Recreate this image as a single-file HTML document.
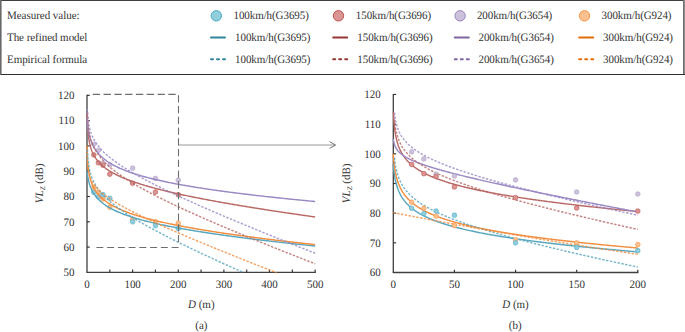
<!DOCTYPE html>
<html><head><meta charset="utf-8"><style>html,body{margin:0;padding:0;background:#fff;width:685px;height:332px;overflow:hidden}svg{display:block}</style></head>
<body><svg width="685" height="332" viewBox="0 0 685 332">
<style>.t{font-family:'Liberation Serif',serif;font-size:11.4px;fill:#333;text-rendering:geometricPrecision}</style>
<rect width="685" height="332" fill="#fff"/>
<rect x="0" y="0" width="684" height="1" fill="#404040"/>
<rect x="0" y="0" width="1.6" height="75" fill="#6a6a6a"/>
<rect x="683" y="0" width="1.8" height="75" fill="#707070"/>
<rect x="1" y="74" width="684" height="1" fill="#303030"/>
<text transform="translate(7,19.2) scale(0.9649,1)" class="t" letter-spacing="-0.03">Measured value:</text>
<text transform="translate(7,41.0) scale(0.9649,1)" class="t" letter-spacing="-0.05">The refined model</text>
<text transform="translate(7,62.7) scale(0.9649,1)" class="t" letter-spacing="-0.05">Empirical formula</text>
<circle cx="216.3" cy="15.8" r="5.2" fill="#92CDDC" stroke="#4BACC6" stroke-width="1"/>
<line x1="211" y1="37.5" x2="225" y2="37.5" stroke="#31859C" stroke-width="2" stroke-linecap="round"/>
<line x1="211" y1="59.2" x2="225" y2="59.2" stroke="#31859C" stroke-width="2" stroke-linecap="round" stroke-dasharray="2 4"/>
<text transform="translate(233.5,19.2) scale(0.9649,1)" class="t" letter-spacing="-0.08">100km/h(G3695)</text>
<text transform="translate(235.1,41.0) scale(0.9649,1)" class="t" letter-spacing="-0.08">100km/h(G3695)</text>
<text transform="translate(235.1,62.7) scale(0.9649,1)" class="t" letter-spacing="-0.08">100km/h(G3695)</text>
<circle cx="338.5" cy="15.8" r="5.2" fill="#D99694" stroke="#C0504D" stroke-width="1"/>
<line x1="333.2" y1="37.5" x2="347.2" y2="37.5" stroke="#943634" stroke-width="2" stroke-linecap="round"/>
<line x1="333.2" y1="59.2" x2="347.2" y2="59.2" stroke="#943634" stroke-width="2" stroke-linecap="round" stroke-dasharray="2 4"/>
<text transform="translate(355.8,19.2) scale(0.9649,1)" class="t" letter-spacing="-0.08">150km/h(G3696)</text>
<text transform="translate(357.3,41.0) scale(0.9649,1)" class="t" letter-spacing="-0.08">150km/h(G3696)</text>
<text transform="translate(357.3,62.7) scale(0.9649,1)" class="t" letter-spacing="-0.08">150km/h(G3696)</text>
<circle cx="460.1" cy="15.8" r="5.2" fill="#CCC1DA" stroke="#9A84C0" stroke-width="1"/>
<line x1="454.8" y1="37.5" x2="468.8" y2="37.5" stroke="#8064A2" stroke-width="2" stroke-linecap="round"/>
<line x1="454.8" y1="59.2" x2="468.8" y2="59.2" stroke="#8064A2" stroke-width="2" stroke-linecap="round" stroke-dasharray="2 4"/>
<text transform="translate(476.9,19.2) scale(0.9649,1)" class="t" letter-spacing="-0.08">200km/h(G3654)</text>
<text transform="translate(478.5,41.0) scale(0.9649,1)" class="t" letter-spacing="-0.08">200km/h(G3654)</text>
<text transform="translate(478.5,62.7) scale(0.9649,1)" class="t" letter-spacing="-0.08">200km/h(G3654)</text>
<circle cx="584.5" cy="15.8" r="5.2" fill="#FAC090" stroke="#F79646" stroke-width="1"/>
<line x1="579.2" y1="37.5" x2="593.2" y2="37.5" stroke="#E36C09" stroke-width="2" stroke-linecap="round"/>
<line x1="579.2" y1="59.2" x2="593.2" y2="59.2" stroke="#E36C09" stroke-width="2" stroke-linecap="round" stroke-dasharray="2 4"/>
<text transform="translate(601.6,19.2) scale(0.9649,1)" class="t" letter-spacing="-0.08">300km/h(G924)</text>
<text transform="translate(603.1,41.0) scale(0.9649,1)" class="t" letter-spacing="-0.08">300km/h(G924)</text>
<text transform="translate(603.1,62.7) scale(0.9649,1)" class="t" letter-spacing="-0.08">300km/h(G924)</text>
<line x1="87.0" y1="94.69999999999999" x2="87.0" y2="272.4" stroke="#404040" stroke-width="1.3"/>
<line x1="86.4" y1="272.4" x2="315.75" y2="272.4" stroke="#404040" stroke-width="1.3"/>
<line x1="87.0" y1="247.09999999999997" x2="89.8" y2="247.09999999999997" stroke="#303030" stroke-width="1.15"/>
<text transform="translate(74.6,250.90) scale(0.9649,1)" class="t" text-anchor="end">60</text>
<line x1="87.0" y1="221.79999999999998" x2="89.8" y2="221.79999999999998" stroke="#303030" stroke-width="1.15"/>
<text transform="translate(74.6,225.60) scale(0.9649,1)" class="t" text-anchor="end">70</text>
<line x1="87.0" y1="196.5" x2="89.8" y2="196.5" stroke="#303030" stroke-width="1.15"/>
<text transform="translate(74.6,200.30) scale(0.9649,1)" class="t" text-anchor="end">80</text>
<line x1="87.0" y1="171.2" x2="89.8" y2="171.2" stroke="#303030" stroke-width="1.15"/>
<text transform="translate(74.6,175.00) scale(0.9649,1)" class="t" text-anchor="end">90</text>
<line x1="87.0" y1="145.89999999999998" x2="89.8" y2="145.89999999999998" stroke="#303030" stroke-width="1.15"/>
<text transform="translate(74.6,149.70) scale(0.9649,1)" class="t" text-anchor="end">100</text>
<line x1="87.0" y1="120.6" x2="89.8" y2="120.6" stroke="#303030" stroke-width="1.15"/>
<text transform="translate(74.6,124.40) scale(0.9649,1)" class="t" text-anchor="end">110</text>
<line x1="87.0" y1="95.29999999999998" x2="89.8" y2="95.29999999999998" stroke="#303030" stroke-width="1.15"/>
<text transform="translate(74.6,99.10) scale(0.9649,1)" class="t" text-anchor="end">120</text>
<text transform="translate(74.6,276.20) scale(0.9649,1)" class="t" text-anchor="end">50</text>
<line x1="109.815" y1="272.4" x2="109.815" y2="269.59999999999997" stroke="#303030" stroke-width="1.15"/>
<line x1="132.63" y1="272.4" x2="132.63" y2="269.59999999999997" stroke="#303030" stroke-width="1.15"/>
<line x1="155.445" y1="272.4" x2="155.445" y2="269.59999999999997" stroke="#303030" stroke-width="1.15"/>
<line x1="178.26" y1="272.4" x2="178.26" y2="269.59999999999997" stroke="#303030" stroke-width="1.15"/>
<line x1="201.075" y1="272.4" x2="201.075" y2="269.59999999999997" stroke="#303030" stroke-width="1.15"/>
<line x1="223.89" y1="272.4" x2="223.89" y2="269.59999999999997" stroke="#303030" stroke-width="1.15"/>
<line x1="246.70499999999998" y1="272.4" x2="246.70499999999998" y2="269.59999999999997" stroke="#303030" stroke-width="1.15"/>
<line x1="269.52" y1="272.4" x2="269.52" y2="269.59999999999997" stroke="#303030" stroke-width="1.15"/>
<line x1="292.335" y1="272.4" x2="292.335" y2="269.59999999999997" stroke="#303030" stroke-width="1.15"/>
<line x1="315.15" y1="272.4" x2="315.15" y2="269.59999999999997" stroke="#303030" stroke-width="1.15"/>
<text transform="translate(87.00,287.5) scale(0.9649,1)" class="t" text-anchor="middle">0</text>
<text transform="translate(132.63,287.5) scale(0.9649,1)" class="t" text-anchor="middle">100</text>
<text transform="translate(178.26,287.5) scale(0.9649,1)" class="t" text-anchor="middle">200</text>
<text transform="translate(223.89,287.5) scale(0.9649,1)" class="t" text-anchor="middle">300</text>
<text transform="translate(269.52,287.5) scale(0.9649,1)" class="t" text-anchor="middle">400</text>
<text transform="translate(315.15,287.5) scale(0.9649,1)" class="t" text-anchor="middle">500</text>
<line x1="393.3" y1="93.88" x2="393.3" y2="272.5" stroke="#404040" stroke-width="1.3"/>
<line x1="392.7" y1="272.5" x2="638.4" y2="272.5" stroke="#404040" stroke-width="1.3"/>
<line x1="393.3" y1="242.82999999999998" x2="396.1" y2="242.82999999999998" stroke="#303030" stroke-width="1.15"/>
<text transform="translate(380.8,246.63) scale(0.9649,1)" class="t" text-anchor="end">70</text>
<line x1="393.3" y1="213.16" x2="396.1" y2="213.16" stroke="#303030" stroke-width="1.15"/>
<text transform="translate(380.8,216.96) scale(0.9649,1)" class="t" text-anchor="end">80</text>
<line x1="393.3" y1="183.49" x2="396.1" y2="183.49" stroke="#303030" stroke-width="1.15"/>
<text transform="translate(380.8,187.29) scale(0.9649,1)" class="t" text-anchor="end">90</text>
<line x1="393.3" y1="153.82" x2="396.1" y2="153.82" stroke="#303030" stroke-width="1.15"/>
<text transform="translate(380.8,157.62) scale(0.9649,1)" class="t" text-anchor="end">100</text>
<line x1="393.3" y1="124.15" x2="396.1" y2="124.15" stroke="#303030" stroke-width="1.15"/>
<text transform="translate(380.8,127.95) scale(0.9649,1)" class="t" text-anchor="end">110</text>
<line x1="393.3" y1="94.47999999999999" x2="396.1" y2="94.47999999999999" stroke="#303030" stroke-width="1.15"/>
<text transform="translate(380.8,98.28) scale(0.9649,1)" class="t" text-anchor="end">120</text>
<text transform="translate(380.8,276.30) scale(0.9649,1)" class="t" text-anchor="end">60</text>
<line x1="454.425" y1="272.5" x2="454.425" y2="269.7" stroke="#303030" stroke-width="1.15"/>
<line x1="515.55" y1="272.5" x2="515.55" y2="269.7" stroke="#303030" stroke-width="1.15"/>
<line x1="576.675" y1="272.5" x2="576.675" y2="269.7" stroke="#303030" stroke-width="1.15"/>
<line x1="637.8" y1="272.5" x2="637.8" y2="269.7" stroke="#303030" stroke-width="1.15"/>
<text transform="translate(393.30,287.5) scale(0.9649,1)" class="t" text-anchor="middle">0</text>
<text transform="translate(454.43,287.5) scale(0.9649,1)" class="t" text-anchor="middle">50</text>
<text transform="translate(515.55,287.5) scale(0.9649,1)" class="t" text-anchor="middle">100</text>
<text transform="translate(576.67,287.5) scale(0.9649,1)" class="t" text-anchor="middle">150</text>
<text transform="translate(637.80,287.5) scale(0.9649,1)" class="t" text-anchor="middle">200</text>
<line x1="178.26" y1="145.0" x2="334.5" y2="145.0" stroke="#9a9a9a" stroke-width="1.1"/>
<path d="M329.5,141.6 L335.6,145 L329.5,148.4" fill="none" stroke="#686868" stroke-width="0.95"/>
<circle cx="93.84" cy="144.26" r="2.35" fill="#CCC1DA" stroke="#B3A2C7" stroke-width="0.6"/>
<circle cx="98.41" cy="150.23" r="2.35" fill="#CCC1DA" stroke="#B3A2C7" stroke-width="0.6"/>
<circle cx="102.97" cy="163.28" r="2.35" fill="#CCC1DA" stroke="#B3A2C7" stroke-width="0.6"/>
<circle cx="109.81" cy="164.81" r="2.35" fill="#CCC1DA" stroke="#B3A2C7" stroke-width="0.6"/>
<circle cx="132.63" cy="168.14" r="2.35" fill="#CCC1DA" stroke="#B3A2C7" stroke-width="0.6"/>
<circle cx="155.44" cy="178.46" r="2.35" fill="#CCC1DA" stroke="#B3A2C7" stroke-width="0.6"/>
<circle cx="178.26" cy="180.16" r="2.35" fill="#CCC1DA" stroke="#B3A2C7" stroke-width="0.6"/>
<circle cx="93.84" cy="187.24" r="2.35" fill="#FAC090" stroke="#F79646" stroke-width="0.6"/>
<circle cx="98.41" cy="192.27" r="2.35" fill="#FAC090" stroke="#F79646" stroke-width="0.6"/>
<circle cx="102.97" cy="199.01" r="2.35" fill="#FAC090" stroke="#F79646" stroke-width="0.6"/>
<circle cx="109.81" cy="207.19" r="2.35" fill="#FAC090" stroke="#F79646" stroke-width="0.6"/>
<circle cx="132.63" cy="219.22" r="2.35" fill="#FAC090" stroke="#F79646" stroke-width="0.6"/>
<circle cx="155.44" cy="221.86" r="2.35" fill="#FAC090" stroke="#F79646" stroke-width="0.6"/>
<circle cx="178.26" cy="223.22" r="2.35" fill="#FAC090" stroke="#F79646" stroke-width="0.6"/>
<circle cx="93.84" cy="154.92" r="2.35" fill="#D99694" stroke="#C0504D" stroke-width="0.6"/>
<circle cx="98.41" cy="162.85" r="2.35" fill="#D99694" stroke="#C0504D" stroke-width="0.6"/>
<circle cx="102.97" cy="165.24" r="2.35" fill="#D99694" stroke="#C0504D" stroke-width="0.6"/>
<circle cx="109.81" cy="174.19" r="2.35" fill="#D99694" stroke="#C0504D" stroke-width="0.6"/>
<circle cx="132.63" cy="183.23" r="2.35" fill="#D99694" stroke="#C0504D" stroke-width="0.6"/>
<circle cx="155.44" cy="192.10" r="2.35" fill="#D99694" stroke="#C0504D" stroke-width="0.6"/>
<circle cx="178.26" cy="194.74" r="2.35" fill="#D99694" stroke="#C0504D" stroke-width="0.6"/>
<circle cx="93.84" cy="192.36" r="2.35" fill="#92CDDC" stroke="#4BACC6" stroke-width="0.6"/>
<circle cx="98.41" cy="196.79" r="2.35" fill="#92CDDC" stroke="#4BACC6" stroke-width="0.6"/>
<circle cx="102.97" cy="194.66" r="2.35" fill="#92CDDC" stroke="#4BACC6" stroke-width="0.6"/>
<circle cx="109.81" cy="198.24" r="2.35" fill="#92CDDC" stroke="#4BACC6" stroke-width="0.6"/>
<circle cx="132.63" cy="221.77" r="2.35" fill="#92CDDC" stroke="#4BACC6" stroke-width="0.6"/>
<circle cx="155.44" cy="225.70" r="2.35" fill="#92CDDC" stroke="#4BACC6" stroke-width="0.6"/>
<circle cx="178.26" cy="228.51" r="2.35" fill="#92CDDC" stroke="#4BACC6" stroke-width="0.6"/>
<path d="M87.00,171.09 L87.02,171.23 L87.03,171.37 L87.05,171.50 L87.06,171.63 L87.08,171.76 L87.09,171.89 L87.11,172.02 L87.12,172.15 L87.14,172.27 L87.15,172.40 L87.17,172.52 L87.18,172.64 L87.20,172.76 L87.21,172.88 L87.23,173.00 L87.24,173.12 L87.26,173.24 L87.28,173.35 L87.29,173.47 L87.31,173.58 L87.32,173.69 L87.34,173.80 L87.35,173.91 L87.37,174.02 L87.38,174.13 L87.40,174.24 L87.41,174.35 L87.43,174.45 L87.44,174.56 L87.46,174.66 L87.47,174.76 L87.49,174.87 L87.51,174.97 L87.52,175.07 L87.54,175.17 L87.55,175.27 L87.57,175.37 L87.58,175.46 L87.60,175.56 L87.61,175.66 L87.63,175.75 L87.64,175.85 L87.66,175.94 L87.67,176.04 L87.69,176.13 L87.70,176.22 L87.72,176.31 L87.73,176.40 L87.75,176.49 L87.77,176.58 L87.78,176.67 L87.80,176.76 L87.81,176.85 L87.83,176.93 L87.84,177.02 L87.86,177.11 L87.87,177.19 L87.89,177.28 L87.90,177.36 L87.92,177.44 L87.93,177.53 L87.95,177.61 L87.96,177.69 L87.98,177.77 L88.00,177.85 L88.01,177.93 L88.03,178.01 L88.04,178.09 L88.06,178.17 L88.07,178.25 L88.09,178.33 L88.10,178.41 L88.12,178.48 L88.13,178.56 L88.15,178.64 L88.16,178.71 L88.18,178.79 L88.19,178.86 L88.21,178.94 L88.22,179.01 L88.24,179.08 L88.26,179.16 L88.27,179.23 L88.29,179.30 L88.30,179.37 L88.32,179.44 L88.33,179.52 L88.35,179.59 L88.36,179.66 L88.38,179.73 L88.39,179.80 L88.41,179.86 L88.42,179.93 L88.44,180.00 L88.45,180.07 L88.47,180.14 L88.49,180.20 L88.50,180.27 L88.52,180.34 L88.53,180.40 L88.55,180.47 L88.56,180.54 L88.58,180.60 L88.59,180.67 L88.61,180.73 L88.62,180.79 L88.64,180.86 L88.65,180.92 L88.67,180.99 L88.68,181.05 L88.70,181.11 L88.71,181.17 L88.73,181.24 L88.75,181.30 L88.76,181.36 L88.78,181.42 L88.79,181.48 L88.81,181.54 L88.82,181.60 L88.84,181.66 L88.85,181.72 L88.87,181.78 L88.88,181.84 L88.90,181.90 L88.91,181.96 L88.93,182.02 L88.94,182.08 L88.96,182.13 L88.98,182.19 L88.99,182.25 L89.01,182.31 L89.02,182.36 L89.04,182.42 L89.05,182.48 L89.07,182.53 L89.08,182.59 L89.10,182.64 L89.11,182.70 L89.13,182.75 L89.14,182.81 L89.16,182.86 L89.17,182.92 L89.19,182.97 L89.20,183.03 L89.22,183.08 L89.24,183.13 L89.25,183.19 L89.27,183.24 L89.28,183.29 L89.37,183.59 L89.45,183.88 L89.54,184.16 L89.63,184.43 L89.71,184.71 L89.80,184.97 L89.89,185.23 L89.97,185.48 L90.06,185.73 L90.15,185.98 L90.23,186.22 L90.32,186.46 L90.41,186.69 L90.49,186.92 L90.58,187.14 L90.67,187.36 L90.75,187.58 L90.84,187.79 L90.93,188.00 L91.01,188.20 L91.10,188.41 L91.19,188.61 L91.27,188.80 L91.36,189.00 L91.45,189.19 L91.53,189.38 L91.62,189.56 L91.71,189.75 L91.79,189.93 L91.88,190.10 L91.97,190.28 L92.05,190.45 L92.14,190.62 L92.23,190.79 L92.31,190.96 L92.40,191.13 L92.49,191.29 L92.57,191.45 L92.66,191.61 L92.75,191.76 L92.83,191.92 L92.92,192.07 L93.01,192.22 L93.09,192.37 L93.18,192.52 L93.27,192.67 L93.35,192.81 L93.44,192.96 L93.53,193.10 L93.61,193.24 L93.70,193.38 L93.79,193.52 L93.87,193.65 L93.96,193.79 L94.05,193.92 L94.13,194.05 L94.22,194.18 L94.31,194.31 L94.39,194.44 L94.48,194.57 L94.57,194.69 L94.65,194.82 L94.74,194.94 L94.83,195.06 L94.91,195.18 L95.00,195.30 L95.09,195.42 L95.17,195.54 L95.26,195.66 L95.35,195.77 L95.43,195.89 L95.52,196.00 L95.61,196.12 L95.69,196.23 L95.78,196.34 L95.87,196.45 L95.95,196.56 L96.04,196.67 L96.13,196.78 L97.23,198.08 L98.33,199.26 L99.43,200.35 L100.53,201.37 L101.63,202.31 L102.73,203.20 L103.83,204.03 L104.93,204.82 L106.03,205.56 L107.13,206.28 L108.23,206.95 L109.33,207.60 L110.43,208.22 L111.53,208.82 L112.64,209.39 L113.74,209.95 L114.84,210.48 L115.94,211.00 L117.04,211.50 L118.14,211.98 L119.24,212.45 L120.34,212.91 L121.44,213.35 L122.54,213.79 L123.64,214.21 L124.74,214.62 L125.84,215.02 L126.94,215.41 L128.04,215.79 L129.14,216.17 L130.25,216.53 L131.35,216.89 L132.45,217.24 L133.55,217.59 L134.65,217.93 L135.75,218.26 L136.85,218.58 L137.95,218.90 L139.05,219.22 L140.15,219.53 L141.25,219.83 L142.35,220.13 L143.45,220.42 L144.55,220.71 L145.65,221.00 L146.75,221.28 L147.86,221.56 L148.96,221.83 L150.06,222.10 L151.16,222.36 L152.26,222.63 L153.36,222.88 L154.46,223.14 L155.56,223.39 L156.66,223.64 L157.76,223.89 L158.86,224.13 L159.96,224.37 L161.06,224.61 L162.16,224.84 L163.26,225.07 L164.36,225.30 L165.47,225.53 L166.57,225.76 L167.67,225.98 L168.77,226.20 L169.87,226.42 L170.97,226.63 L172.07,226.85 L173.17,227.06 L174.27,227.27 L175.37,227.48 L176.47,227.68 L177.57,227.89 L178.67,228.09 L179.77,228.29 L180.87,228.49 L181.97,228.69 L183.08,228.88 L184.18,229.08 L185.28,229.27 L186.38,229.46 L187.48,229.65 L188.58,229.84 L189.68,230.03 L190.78,230.21 L191.88,230.40 L192.98,230.58 L194.08,230.76 L195.18,230.94 L196.28,231.12 L197.38,231.30 L198.48,231.47 L199.58,231.65 L200.69,231.82 L201.79,231.99 L202.89,232.17 L203.99,232.34 L205.09,232.51 L206.19,232.67 L207.29,232.84 L208.39,233.01 L209.49,233.17 L210.59,233.34 L211.69,233.50 L212.79,233.66 L213.89,233.82 L214.99,233.98 L216.09,234.14 L217.19,234.30 L218.30,234.46 L219.40,234.62 L220.50,234.77 L221.60,234.93 L222.70,235.08 L223.80,235.24 L224.90,235.39 L226.00,235.54 L227.10,235.69 L228.20,235.84 L229.30,235.99 L230.40,236.14 L231.50,236.29 L232.60,236.44 L233.70,236.59 L234.80,236.73 L235.91,236.88 L237.01,237.02 L238.11,237.17 L239.21,237.31 L240.31,237.45 L241.41,237.60 L242.51,237.74 L243.61,237.88 L244.71,238.02 L245.81,238.16 L246.91,238.30 L248.01,238.44 L249.11,238.58 L250.21,238.71 L251.31,238.85 L252.41,238.99 L253.52,239.12 L254.62,239.26 L255.72,239.39 L256.82,239.53 L257.92,239.66 L259.02,239.79 L260.12,239.93 L261.22,240.06 L262.32,240.19 L263.42,240.32 L264.52,240.45 L265.62,240.58 L266.72,240.71 L267.82,240.84 L268.92,240.97 L270.02,241.10 L271.13,241.23 L272.23,241.36 L273.33,241.48 L274.43,241.61 L275.53,241.74 L276.63,241.86 L277.73,241.99 L278.83,242.11 L279.93,242.24 L281.03,242.36 L282.13,242.49 L283.23,242.61 L284.33,242.73 L285.43,242.85 L286.53,242.98 L287.63,243.10 L288.74,243.22 L289.84,243.34 L290.94,243.46 L292.04,243.58 L293.14,243.70 L294.24,243.82 L295.34,243.94 L296.44,244.06 L297.54,244.18 L298.64,244.30 L299.74,244.42 L300.84,244.53 L301.94,244.65 L303.04,244.77 L304.14,244.89 L305.24,245.00 L306.35,245.12 L307.45,245.23 L308.55,245.35 L309.65,245.46 L310.75,245.58 L311.85,245.69 L312.95,245.81 L314.05,245.92 L315.15,246.04" fill="none" stroke="#58A7BF" stroke-width="1.45" stroke-linecap="butt" stroke-linejoin="round"/>
<path d="M87.18,112.50 L87.20,113.28 L87.21,114.01 L87.23,114.70 L87.24,115.35 L87.26,115.97 L87.27,116.56 L87.28,117.12 L87.30,117.65 L87.31,118.17 L87.33,118.66 L87.34,119.13 L87.35,119.59 L87.37,120.03 L87.38,120.45 L87.40,120.86 L87.41,121.26 L87.42,121.64 L87.44,122.02 L87.45,122.38 L87.47,122.73 L87.48,123.07 L87.49,123.40 L87.51,123.72 L87.52,124.04 L87.54,124.35 L87.55,124.65 L87.56,124.94 L87.58,125.22 L87.59,125.50 L87.61,125.77 L87.62,126.04 L87.64,126.30 L87.65,126.56 L87.66,126.81 L87.68,127.05 L87.69,127.29 L87.71,127.53 L87.72,127.76 L87.73,127.99 L87.75,128.21 L87.76,128.43 L87.78,128.64 L87.79,128.86 L87.80,129.06 L87.82,129.27 L87.83,129.47 L87.85,129.67 L87.86,129.86 L87.87,130.05 L87.89,130.24 L87.90,130.43 L87.92,130.61 L87.93,130.79 L87.94,130.97 L87.96,131.14 L87.97,131.32 L87.99,131.49 L88.00,131.65 L88.02,131.82 L88.03,131.98 L88.04,132.14 L88.06,132.30 L88.07,132.46 L88.09,132.62 L88.10,132.77 L88.11,132.92 L88.13,133.07 L88.14,133.22 L88.16,133.36 L88.17,133.51 L88.18,133.65 L88.20,133.79 L88.21,133.93 L88.23,134.07 L88.24,134.21 L88.25,134.34 L88.27,134.47 L88.28,134.61 L88.30,134.74 L88.31,134.87 L88.32,134.99 L88.34,135.12 L88.35,135.25 L88.37,135.37 L88.38,135.49 L88.39,135.61 L88.41,135.73 L88.42,135.85 L88.44,135.97 L88.45,136.09 L88.47,136.20 L88.48,136.32 L88.49,136.43 L88.51,136.55 L88.52,136.66 L88.54,136.77 L88.55,136.88 L88.56,136.99 L88.58,137.09 L88.59,137.20 L88.61,137.31 L88.62,137.41 L88.63,137.52 L88.65,137.62 L88.66,137.72 L88.68,137.82 L88.69,137.92 L88.70,138.02 L88.72,138.12 L88.73,138.22 L88.75,138.32 L88.76,138.42 L88.77,138.51 L88.79,138.61 L88.80,138.70 L88.82,138.80 L88.83,138.89 L88.85,138.98 L88.86,139.07 L88.87,139.17 L88.89,139.26 L88.90,139.35 L88.92,139.43 L88.93,139.52 L88.94,139.61 L88.96,139.70 L88.97,139.79 L88.99,139.87 L89.00,139.96 L89.01,140.04 L89.03,140.13 L89.04,140.21 L89.06,140.29 L89.07,140.38 L89.08,140.46 L89.10,140.54 L89.11,140.62 L89.13,140.70 L89.14,140.78 L89.15,140.86 L89.17,140.94 L89.18,141.02 L89.20,141.10 L89.21,141.17 L89.23,141.25 L89.24,141.33 L89.25,141.40 L89.27,141.48 L89.28,141.56 L89.37,142.01 L89.45,142.45 L89.54,142.87 L89.63,143.28 L89.71,143.67 L89.80,144.06 L89.89,144.43 L89.97,144.79 L90.06,145.15 L90.15,145.49 L90.23,145.82 L90.32,146.15 L90.41,146.46 L90.49,146.77 L90.58,147.07 L90.67,147.37 L90.75,147.66 L90.84,147.94 L90.93,148.22 L91.01,148.49 L91.10,148.75 L91.19,149.01 L91.27,149.26 L91.36,149.51 L91.45,149.76 L91.53,150.00 L91.62,150.23 L91.71,150.46 L91.79,150.69 L91.88,150.91 L91.97,151.13 L92.05,151.35 L92.14,151.56 L92.23,151.77 L92.31,151.97 L92.40,152.18 L92.49,152.38 L92.57,152.57 L92.66,152.77 L92.75,152.96 L92.83,153.15 L92.92,153.33 L93.01,153.51 L93.09,153.69 L93.18,153.87 L93.27,154.05 L93.35,154.22 L93.44,154.39 L93.53,154.56 L93.61,154.73 L93.70,154.89 L93.79,155.05 L93.87,155.21 L93.96,155.37 L94.05,155.53 L94.13,155.68 L94.22,155.84 L94.31,155.99 L94.39,156.14 L94.48,156.29 L94.57,156.43 L94.65,156.58 L94.74,156.72 L94.83,156.86 L94.91,157.00 L95.00,157.14 L95.09,157.28 L95.17,157.42 L95.26,157.55 L95.35,157.69 L95.43,157.82 L95.52,157.95 L95.61,158.08 L95.69,158.21 L95.78,158.33 L95.87,158.46 L95.95,158.58 L96.04,158.71 L96.13,158.83 L97.23,160.30 L98.33,161.63 L99.43,162.85 L100.53,163.97 L101.63,165.01 L102.73,165.99 L103.83,166.90 L104.93,167.76 L106.03,168.58 L107.13,169.36 L108.23,170.10 L109.33,170.81 L110.43,171.48 L111.53,172.14 L112.64,172.76 L113.74,173.37 L114.84,173.95 L115.94,174.52 L117.04,175.07 L118.14,175.60 L119.24,176.12 L120.34,176.62 L121.44,177.11 L122.54,177.58 L123.64,178.05 L124.74,178.50 L125.84,178.95 L126.94,179.38 L128.04,179.81 L129.14,180.23 L130.25,180.63 L131.35,181.04 L132.45,181.43 L133.55,181.81 L134.65,182.19 L135.75,182.57 L136.85,182.93 L137.95,183.29 L139.05,183.65 L140.15,184.00 L141.25,184.34 L142.35,184.68 L143.45,185.02 L144.55,185.35 L145.65,185.67 L146.75,186.00 L147.86,186.31 L148.96,186.63 L150.06,186.94 L151.16,187.24 L152.26,187.55 L153.36,187.84 L154.46,188.14 L155.56,188.43 L156.66,188.72 L157.76,189.01 L158.86,189.29 L159.96,189.57 L161.06,189.85 L162.16,190.12 L163.26,190.40 L164.36,190.67 L165.47,190.93 L166.57,191.20 L167.67,191.46 L168.77,191.72 L169.87,191.98 L170.97,192.24 L172.07,192.49 L173.17,192.74 L174.27,192.99 L175.37,193.24 L176.47,193.49 L177.57,193.73 L178.67,193.98 L179.77,194.22 L180.87,194.46 L181.97,194.69 L183.08,194.93 L184.18,195.17 L185.28,195.40 L186.38,195.63 L187.48,195.86 L188.58,196.09 L189.68,196.31 L190.78,196.54 L191.88,196.76 L192.98,196.99 L194.08,197.21 L195.18,197.43 L196.28,197.65 L197.38,197.87 L198.48,198.08 L199.58,198.30 L200.69,198.51 L201.79,198.73 L202.89,198.94 L203.99,199.15 L205.09,199.36 L206.19,199.57 L207.29,199.78 L208.39,199.98 L209.49,200.19 L210.59,200.39 L211.69,200.60 L212.79,200.80 L213.89,201.00 L214.99,201.20 L216.09,201.40 L217.19,201.60 L218.30,201.80 L219.40,202.00 L220.50,202.20 L221.60,202.39 L222.70,202.59 L223.80,202.78 L224.90,202.97 L226.00,203.17 L227.10,203.36 L228.20,203.55 L229.30,203.74 L230.40,203.93 L231.50,204.12 L232.60,204.31 L233.70,204.50 L234.80,204.68 L235.91,204.87 L237.01,205.06 L238.11,205.24 L239.21,205.43 L240.31,205.61 L241.41,205.79 L242.51,205.97 L243.61,206.16 L244.71,206.34 L245.81,206.52 L246.91,206.70 L248.01,206.88 L249.11,207.06 L250.21,207.24 L251.31,207.41 L252.41,207.59 L253.52,207.77 L254.62,207.94 L255.72,208.12 L256.82,208.30 L257.92,208.47 L259.02,208.64 L260.12,208.82 L261.22,208.99 L262.32,209.16 L263.42,209.34 L264.52,209.51 L265.62,209.68 L266.72,209.85 L267.82,210.02 L268.92,210.19 L270.02,210.36 L271.13,210.53 L272.23,210.70 L273.33,210.87 L274.43,211.03 L275.53,211.20 L276.63,211.37 L277.73,211.54 L278.83,211.70 L279.93,211.87 L281.03,212.03 L282.13,212.20 L283.23,212.36 L284.33,212.53 L285.43,212.69 L286.53,212.85 L287.63,213.02 L288.74,213.18 L289.84,213.34 L290.94,213.51 L292.04,213.67 L293.14,213.83 L294.24,213.99 L295.34,214.15 L296.44,214.31 L297.54,214.47 L298.64,214.63 L299.74,214.79 L300.84,214.95 L301.94,215.11 L303.04,215.27 L304.14,215.42 L305.24,215.58 L306.35,215.74 L307.45,215.90 L308.55,216.05 L309.65,216.21 L310.75,216.37 L311.85,216.52 L312.95,216.68 L314.05,216.83 L315.15,216.99" fill="none" stroke="#BA6A66" stroke-width="1.45" stroke-linecap="butt" stroke-linejoin="round"/>
<path d="M87.00,119.06 L87.02,119.25 L87.03,119.44 L87.05,119.63 L87.06,119.82 L87.08,120.00 L87.09,120.18 L87.11,120.36 L87.12,120.54 L87.14,120.71 L87.15,120.88 L87.17,121.05 L87.18,121.22 L87.20,121.39 L87.21,121.55 L87.23,121.71 L87.24,121.87 L87.26,122.03 L87.28,122.19 L87.29,122.34 L87.31,122.50 L87.32,122.65 L87.34,122.80 L87.35,122.95 L87.37,123.09 L87.38,123.24 L87.40,123.38 L87.41,123.52 L87.43,123.67 L87.44,123.80 L87.46,123.94 L87.47,124.08 L87.49,124.22 L87.51,124.35 L87.52,124.48 L87.54,124.62 L87.55,124.75 L87.57,124.88 L87.58,125.00 L87.60,125.13 L87.61,125.26 L87.63,125.38 L87.64,125.51 L87.66,125.63 L87.67,125.75 L87.69,125.87 L87.70,125.99 L87.72,126.11 L87.73,126.23 L87.75,126.34 L87.77,126.46 L87.78,126.57 L87.80,126.69 L87.81,126.80 L87.83,126.91 L87.84,127.02 L87.86,127.14 L87.87,127.24 L87.89,127.35 L87.90,127.46 L87.92,127.57 L87.93,127.67 L87.95,127.78 L87.96,127.88 L87.98,127.99 L88.00,128.09 L88.01,128.19 L88.03,128.30 L88.04,128.40 L88.06,128.50 L88.07,128.60 L88.09,128.70 L88.10,128.79 L88.12,128.89 L88.13,128.99 L88.15,129.08 L88.16,129.18 L88.18,129.27 L88.19,129.37 L88.21,129.46 L88.22,129.56 L88.24,129.65 L88.26,129.74 L88.27,129.83 L88.29,129.92 L88.30,130.01 L88.32,130.10 L88.33,130.19 L88.35,130.28 L88.36,130.37 L88.38,130.45 L88.39,130.54 L88.41,130.63 L88.42,130.71 L88.44,130.80 L88.45,130.88 L88.47,130.97 L88.49,131.05 L88.50,131.13 L88.52,131.22 L88.53,131.30 L88.55,131.38 L88.56,131.46 L88.58,131.54 L88.59,131.62 L88.61,131.70 L88.62,131.78 L88.64,131.86 L88.65,131.94 L88.67,132.02 L88.68,132.10 L88.70,132.17 L88.71,132.25 L88.73,132.33 L88.75,132.40 L88.76,132.48 L88.78,132.55 L88.79,132.63 L88.81,132.70 L88.82,132.78 L88.84,132.85 L88.85,132.92 L88.87,133.00 L88.88,133.07 L88.90,133.14 L88.91,133.21 L88.93,133.29 L88.94,133.36 L88.96,133.43 L88.98,133.50 L88.99,133.57 L89.01,133.64 L89.02,133.71 L89.04,133.78 L89.05,133.85 L89.07,133.91 L89.08,133.98 L89.10,134.05 L89.11,134.12 L89.13,134.19 L89.14,134.25 L89.16,134.32 L89.17,134.38 L89.19,134.45 L89.20,134.52 L89.22,134.58 L89.24,134.65 L89.25,134.71 L89.27,134.78 L89.28,134.84 L89.37,135.20 L89.45,135.55 L89.54,135.89 L89.63,136.22 L89.71,136.55 L89.80,136.86 L89.89,137.17 L89.97,137.48 L90.06,137.78 L90.15,138.07 L90.23,138.36 L90.32,138.64 L90.41,138.91 L90.49,139.18 L90.58,139.45 L90.67,139.71 L90.75,139.96 L90.84,140.21 L90.93,140.46 L91.01,140.70 L91.10,140.94 L91.19,141.18 L91.27,141.41 L91.36,141.63 L91.45,141.86 L91.53,142.08 L91.62,142.30 L91.71,142.51 L91.79,142.72 L91.88,142.93 L91.97,143.13 L92.05,143.34 L92.14,143.54 L92.23,143.73 L92.31,143.93 L92.40,144.12 L92.49,144.31 L92.57,144.49 L92.66,144.68 L92.75,144.86 L92.83,145.04 L92.92,145.21 L93.01,145.39 L93.09,145.56 L93.18,145.73 L93.27,145.90 L93.35,146.07 L93.44,146.24 L93.53,146.40 L93.61,146.56 L93.70,146.72 L93.79,146.88 L93.87,147.03 L93.96,147.19 L94.05,147.34 L94.13,147.49 L94.22,147.64 L94.31,147.79 L94.39,147.94 L94.48,148.08 L94.57,148.23 L94.65,148.37 L94.74,148.51 L94.83,148.65 L94.91,148.79 L95.00,148.93 L95.09,149.06 L95.17,149.20 L95.26,149.33 L95.35,149.47 L95.43,149.60 L95.52,149.73 L95.61,149.86 L95.69,149.98 L95.78,150.11 L95.87,150.24 L95.95,150.36 L96.04,150.48 L96.13,150.61 L97.23,152.08 L98.33,153.42 L99.43,154.65 L100.53,155.78 L101.63,156.84 L102.73,157.83 L103.83,158.75 L104.93,159.63 L106.03,160.45 L107.13,161.24 L108.23,161.99 L109.33,162.70 L110.43,163.38 L111.53,164.03 L112.64,164.66 L113.74,165.27 L114.84,165.85 L115.94,166.41 L117.04,166.95 L118.14,167.47 L119.24,167.98 L120.34,168.48 L121.44,168.95 L122.54,169.42 L123.64,169.87 L124.74,170.31 L125.84,170.74 L126.94,171.16 L128.04,171.57 L129.14,171.97 L130.25,172.36 L131.35,172.74 L132.45,173.11 L133.55,173.48 L134.65,173.83 L135.75,174.18 L136.85,174.53 L137.95,174.86 L139.05,175.19 L140.15,175.52 L141.25,175.84 L142.35,176.15 L143.45,176.46 L144.55,176.76 L145.65,177.06 L146.75,177.35 L147.86,177.64 L148.96,177.92 L150.06,178.20 L151.16,178.48 L152.26,178.75 L153.36,179.02 L154.46,179.28 L155.56,179.54 L156.66,179.80 L157.76,180.05 L158.86,180.30 L159.96,180.55 L161.06,180.79 L162.16,181.03 L163.26,181.27 L164.36,181.50 L165.47,181.74 L166.57,181.96 L167.67,182.19 L168.77,182.42 L169.87,182.64 L170.97,182.86 L172.07,183.07 L173.17,183.29 L174.27,183.50 L175.37,183.71 L176.47,183.92 L177.57,184.12 L178.67,184.33 L179.77,184.53 L180.87,184.73 L181.97,184.93 L183.08,185.13 L184.18,185.32 L185.28,185.51 L186.38,185.70 L187.48,185.89 L188.58,186.08 L189.68,186.27 L190.78,186.45 L191.88,186.63 L192.98,186.82 L194.08,187.00 L195.18,187.17 L196.28,187.35 L197.38,187.53 L198.48,187.70 L199.58,187.87 L200.69,188.05 L201.79,188.22 L202.89,188.38 L203.99,188.55 L205.09,188.72 L206.19,188.88 L207.29,189.05 L208.39,189.21 L209.49,189.37 L210.59,189.53 L211.69,189.69 L212.79,189.85 L213.89,190.01 L214.99,190.17 L216.09,190.32 L217.19,190.48 L218.30,190.63 L219.40,190.78 L220.50,190.93 L221.60,191.08 L222.70,191.23 L223.80,191.38 L224.90,191.53 L226.00,191.68 L227.10,191.82 L228.20,191.97 L229.30,192.11 L230.40,192.26 L231.50,192.40 L232.60,192.54 L233.70,192.68 L234.80,192.82 L235.91,192.96 L237.01,193.10 L238.11,193.24 L239.21,193.38 L240.31,193.51 L241.41,193.65 L242.51,193.79 L243.61,193.92 L244.71,194.05 L245.81,194.19 L246.91,194.32 L248.01,194.45 L249.11,194.58 L250.21,194.71 L251.31,194.84 L252.41,194.97 L253.52,195.10 L254.62,195.23 L255.72,195.36 L256.82,195.48 L257.92,195.61 L259.02,195.74 L260.12,195.86 L261.22,195.99 L262.32,196.11 L263.42,196.23 L264.52,196.36 L265.62,196.48 L266.72,196.60 L267.82,196.72 L268.92,196.84 L270.02,196.96 L271.13,197.08 L272.23,197.20 L273.33,197.32 L274.43,197.44 L275.53,197.56 L276.63,197.68 L277.73,197.79 L278.83,197.91 L279.93,198.03 L281.03,198.14 L282.13,198.26 L283.23,198.37 L284.33,198.49 L285.43,198.60 L286.53,198.71 L287.63,198.83 L288.74,198.94 L289.84,199.05 L290.94,199.16 L292.04,199.27 L293.14,199.38 L294.24,199.50 L295.34,199.61 L296.44,199.72 L297.54,199.82 L298.64,199.93 L299.74,200.04 L300.84,200.15 L301.94,200.26 L303.04,200.37 L304.14,200.47 L305.24,200.58 L306.35,200.69 L307.45,200.79 L308.55,200.90 L309.65,201.00 L310.75,201.11 L311.85,201.21 L312.95,201.32 L314.05,201.42 L315.15,201.53" fill="none" stroke="#9A89C4" stroke-width="1.45" stroke-linecap="butt" stroke-linejoin="round"/>
<path d="M87.00,145.43 L87.02,146.13 L87.03,146.79 L87.05,147.43 L87.06,148.03 L87.08,148.61 L87.09,149.16 L87.11,149.69 L87.12,150.20 L87.14,150.69 L87.15,151.16 L87.17,151.62 L87.18,152.06 L87.20,152.49 L87.21,152.90 L87.23,153.30 L87.24,153.69 L87.26,154.06 L87.28,154.43 L87.29,154.79 L87.31,155.13 L87.32,155.47 L87.34,155.80 L87.35,156.12 L87.37,156.43 L87.38,156.74 L87.40,157.04 L87.41,157.33 L87.43,157.61 L87.44,157.89 L87.46,158.17 L87.47,158.44 L87.49,158.70 L87.51,158.96 L87.52,159.21 L87.54,159.46 L87.55,159.70 L87.57,159.94 L87.58,160.17 L87.60,160.40 L87.61,160.63 L87.63,160.85 L87.64,161.07 L87.66,161.29 L87.67,161.50 L87.69,161.71 L87.70,161.91 L87.72,162.11 L87.73,162.31 L87.75,162.51 L87.77,162.70 L87.78,162.89 L87.80,163.08 L87.81,163.26 L87.83,163.44 L87.84,163.62 L87.86,163.80 L87.87,163.97 L87.89,164.15 L87.90,164.32 L87.92,164.49 L87.93,164.65 L87.95,164.82 L87.96,164.98 L87.98,165.14 L88.00,165.29 L88.01,165.45 L88.03,165.60 L88.04,165.76 L88.06,165.91 L88.07,166.06 L88.09,166.20 L88.10,166.35 L88.12,166.49 L88.13,166.64 L88.15,166.78 L88.16,166.92 L88.18,167.05 L88.19,167.19 L88.21,167.33 L88.22,167.46 L88.24,167.59 L88.26,167.72 L88.27,167.85 L88.29,167.98 L88.30,168.11 L88.32,168.23 L88.33,168.36 L88.35,168.48 L88.36,168.61 L88.38,168.73 L88.39,168.85 L88.41,168.97 L88.42,169.08 L88.44,169.20 L88.45,169.32 L88.47,169.43 L88.49,169.55 L88.50,169.66 L88.52,169.77 L88.53,169.88 L88.55,169.99 L88.56,170.10 L88.58,170.21 L88.59,170.32 L88.61,170.42 L88.62,170.53 L88.64,170.64 L88.65,170.74 L88.67,170.84 L88.68,170.95 L88.70,171.05 L88.71,171.15 L88.73,171.25 L88.75,171.35 L88.76,171.45 L88.78,171.54 L88.79,171.64 L88.81,171.74 L88.82,171.83 L88.84,171.93 L88.85,172.02 L88.87,172.12 L88.88,172.21 L88.90,172.30 L88.91,172.39 L88.93,172.48 L88.94,172.57 L88.96,172.66 L88.98,172.75 L88.99,172.84 L89.01,172.93 L89.02,173.02 L89.04,173.11 L89.05,173.19 L89.07,173.28 L89.08,173.36 L89.10,173.45 L89.11,173.53 L89.13,173.62 L89.14,173.70 L89.16,173.78 L89.17,173.86 L89.19,173.94 L89.20,174.03 L89.22,174.11 L89.24,174.19 L89.25,174.27 L89.27,174.34 L89.28,174.42 L89.37,174.86 L89.45,175.28 L89.54,175.69 L89.63,176.09 L89.71,176.47 L89.80,176.85 L89.89,177.21 L89.97,177.57 L90.06,177.91 L90.15,178.25 L90.23,178.58 L90.32,178.90 L90.41,179.21 L90.49,179.52 L90.58,179.82 L90.67,180.11 L90.75,180.40 L90.84,180.68 L90.93,180.95 L91.01,181.22 L91.10,181.48 L91.19,181.74 L91.27,182.00 L91.36,182.24 L91.45,182.49 L91.53,182.73 L91.62,182.97 L91.71,183.20 L91.79,183.43 L91.88,183.65 L91.97,183.87 L92.05,184.09 L92.14,184.30 L92.23,184.51 L92.31,184.72 L92.40,184.92 L92.49,185.12 L92.57,185.32 L92.66,185.52 L92.75,185.71 L92.83,185.90 L92.92,186.09 L93.01,186.27 L93.09,186.45 L93.18,186.63 L93.27,186.81 L93.35,186.98 L93.44,187.16 L93.53,187.33 L93.61,187.50 L93.70,187.66 L93.79,187.83 L93.87,187.99 L93.96,188.15 L94.05,188.31 L94.13,188.47 L94.22,188.62 L94.31,188.78 L94.39,188.93 L94.48,189.08 L94.57,189.23 L94.65,189.37 L94.74,189.52 L94.83,189.66 L94.91,189.80 L95.00,189.95 L95.09,190.09 L95.17,190.22 L95.26,190.36 L95.35,190.50 L95.43,190.63 L95.52,190.76 L95.61,190.89 L95.69,191.02 L95.78,191.15 L95.87,191.28 L95.95,191.41 L96.04,191.53 L96.13,191.66 L97.23,193.15 L98.33,194.50 L99.43,195.74 L100.53,196.87 L101.63,197.92 L102.73,198.91 L103.83,199.83 L104.93,200.69 L106.03,201.51 L107.13,202.29 L108.23,203.03 L109.33,203.73 L110.43,204.41 L111.53,205.05 L112.64,205.68 L113.74,206.27 L114.84,206.85 L115.94,207.41 L117.04,207.94 L118.14,208.46 L119.24,208.97 L120.34,209.46 L121.44,209.94 L122.54,210.40 L123.64,210.85 L124.74,211.29 L125.84,211.72 L126.94,212.14 L128.04,212.55 L129.14,212.94 L130.25,213.34 L131.35,213.72 L132.45,214.09 L133.55,214.46 L134.65,214.82 L135.75,215.17 L136.85,215.52 L137.95,215.86 L139.05,216.19 L140.15,216.52 L141.25,216.84 L142.35,217.16 L143.45,217.47 L144.55,217.78 L145.65,218.09 L146.75,218.38 L147.86,218.68 L148.96,218.97 L150.06,219.25 L151.16,219.54 L152.26,219.81 L153.36,220.09 L154.46,220.36 L155.56,220.63 L156.66,220.89 L157.76,221.15 L158.86,221.41 L159.96,221.67 L161.06,221.92 L162.16,222.17 L163.26,222.41 L164.36,222.66 L165.47,222.90 L166.57,223.14 L167.67,223.37 L168.77,223.61 L169.87,223.84 L170.97,224.07 L172.07,224.29 L173.17,224.52 L174.27,224.74 L175.37,224.96 L176.47,225.18 L177.57,225.40 L178.67,225.61 L179.77,225.83 L180.87,226.04 L181.97,226.25 L183.08,226.45 L184.18,226.66 L185.28,226.86 L186.38,227.07 L187.48,227.27 L188.58,227.47 L189.68,227.67 L190.78,227.86 L191.88,228.06 L192.98,228.25 L194.08,228.44 L195.18,228.63 L196.28,228.82 L197.38,229.01 L198.48,229.20 L199.58,229.38 L200.69,229.57 L201.79,229.75 L202.89,229.93 L203.99,230.12 L205.09,230.30 L206.19,230.47 L207.29,230.65 L208.39,230.83 L209.49,231.00 L210.59,231.18 L211.69,231.35 L212.79,231.52 L213.89,231.70 L214.99,231.87 L216.09,232.04 L217.19,232.20 L218.30,232.37 L219.40,232.54 L220.50,232.70 L221.60,232.87 L222.70,233.03 L223.80,233.20 L224.90,233.36 L226.00,233.52 L227.10,233.68 L228.20,233.84 L229.30,234.00 L230.40,234.16 L231.50,234.32 L232.60,234.47 L233.70,234.63 L234.80,234.78 L235.91,234.94 L237.01,235.09 L238.11,235.25 L239.21,235.40 L240.31,235.55 L241.41,235.70 L242.51,235.85 L243.61,236.00 L244.71,236.15 L245.81,236.30 L246.91,236.45 L248.01,236.60 L249.11,236.74 L250.21,236.89 L251.31,237.04 L252.41,237.18 L253.52,237.33 L254.62,237.47 L255.72,237.61 L256.82,237.76 L257.92,237.90 L259.02,238.04 L260.12,238.18 L261.22,238.32 L262.32,238.46 L263.42,238.60 L264.52,238.74 L265.62,238.88 L266.72,239.02 L267.82,239.16 L268.92,239.29 L270.02,239.43 L271.13,239.57 L272.23,239.70 L273.33,239.84 L274.43,239.97 L275.53,240.11 L276.63,240.24 L277.73,240.38 L278.83,240.51 L279.93,240.64 L281.03,240.77 L282.13,240.91 L283.23,241.04 L284.33,241.17 L285.43,241.30 L286.53,241.43 L287.63,241.56 L288.74,241.69 L289.84,241.82 L290.94,241.95 L292.04,242.08 L293.14,242.20 L294.24,242.33 L295.34,242.46 L296.44,242.59 L297.54,242.71 L298.64,242.84 L299.74,242.96 L300.84,243.09 L301.94,243.21 L303.04,243.34 L304.14,243.46 L305.24,243.59 L306.35,243.71 L307.45,243.84 L308.55,243.96 L309.65,244.08 L310.75,244.20 L311.85,244.33 L312.95,244.45 L314.05,244.57 L315.15,244.69" fill="none" stroke="#F18E40" stroke-width="1.45" stroke-linecap="butt" stroke-linejoin="round"/>
<path d="M87.46,149.43 L87.47,149.73 L87.48,150.02 L87.49,150.30 L87.51,150.58 L87.52,150.85 L87.53,151.12 L87.54,151.38 L87.55,151.63 L87.57,151.88 L87.58,152.12 L87.59,152.36 L87.60,152.59 L87.62,152.82 L87.63,153.04 L87.64,153.26 L87.65,153.48 L87.66,153.69 L87.68,153.90 L87.69,154.10 L87.70,154.30 L87.71,154.50 L87.73,154.70 L87.74,154.89 L87.75,155.07 L87.76,155.26 L87.77,155.44 L87.79,155.62 L87.80,155.80 L87.81,155.97 L87.82,156.14 L87.84,156.31 L87.85,156.48 L87.86,156.64 L87.87,156.80 L87.89,156.96 L87.90,157.12 L87.91,157.28 L87.92,157.43 L87.93,157.58 L87.95,157.73 L87.96,157.88 L87.97,158.03 L87.98,158.17 L88.00,158.31 L88.01,158.45 L88.02,158.59 L88.03,158.73 L88.04,158.87 L88.06,159.00 L88.07,159.13 L88.08,159.26 L88.09,159.39 L88.11,159.52 L88.12,159.65 L88.13,159.78 L88.14,159.90 L88.15,160.02 L88.17,160.15 L88.18,160.27 L88.19,160.39 L88.20,160.51 L88.22,160.62 L88.23,160.74 L88.24,160.85 L88.25,160.97 L88.26,161.08 L88.28,161.19 L88.29,161.30 L88.30,161.41 L88.31,161.52 L88.33,161.63 L88.34,161.74 L88.35,161.84 L88.36,161.95 L88.38,162.05 L88.39,162.16 L88.40,162.26 L88.41,162.36 L88.42,162.46 L88.44,162.56 L88.45,162.66 L88.46,162.76 L88.47,162.86 L88.49,162.95 L88.50,163.05 L88.51,163.14 L88.52,163.24 L88.53,163.33 L88.55,163.43 L88.56,163.52 L88.57,163.61 L88.58,163.70 L88.60,163.79 L88.61,163.88 L88.62,163.97 L88.63,164.06 L88.64,164.15 L88.66,164.23 L88.67,164.32 L88.68,164.41 L88.69,164.49 L88.71,164.58 L88.72,164.66 L88.73,164.74 L88.74,164.83 L88.75,164.91 L88.77,164.99 L88.78,165.07 L88.79,165.15 L88.80,165.23 L88.82,165.31 L88.83,165.39 L88.84,165.47 L88.85,165.55 L88.87,165.63 L88.88,165.71 L88.89,165.78 L88.90,165.86 L88.91,165.94 L88.93,166.01 L88.94,166.09 L88.95,166.16 L88.96,166.24 L88.98,166.31 L88.99,166.38 L89.00,166.46 L89.01,166.53 L89.02,166.60 L89.04,166.67 L89.05,166.74 L89.06,166.81 L89.07,166.89 L89.09,166.96 L89.10,167.03 L89.11,167.09 L89.12,167.16 L89.13,167.23 L89.15,167.30 L89.16,167.37 L89.17,167.44 L89.18,167.50 L89.20,167.57 L89.21,167.64 L89.22,167.70 L89.23,167.77 L89.24,167.83 L89.26,167.90 L89.27,167.96 L89.28,168.03 L89.37,168.48 L89.45,168.91 L89.54,169.33 L89.63,169.73 L89.71,170.13 L89.80,170.51 L89.89,170.88 L89.97,171.24 L90.06,171.59 L90.15,171.94 L90.23,172.27 L90.32,172.60 L90.41,172.92 L90.49,173.23 L90.58,173.53 L90.67,173.83 L90.75,174.12 L90.84,174.41 L90.93,174.69 L91.01,174.97 L91.10,175.24 L91.19,175.50 L91.27,175.76 L91.36,176.02 L91.45,176.27 L91.53,176.52 L91.62,176.76 L91.71,177.00 L91.79,177.23 L91.88,177.46 L91.97,177.69 L92.05,177.92 L92.14,178.14 L92.23,178.36 L92.31,178.57 L92.40,178.79 L92.49,178.99 L92.57,179.20 L92.66,179.41 L92.75,179.61 L92.83,179.81 L92.92,180.00 L93.01,180.20 L93.09,180.39 L93.18,180.58 L93.27,180.76 L93.35,180.95 L93.44,181.13 L93.53,181.31 L93.61,181.49 L93.70,181.67 L93.79,181.85 L93.87,182.02 L93.96,182.19 L94.05,182.36 L94.13,182.53 L94.22,182.70 L94.31,182.86 L94.39,183.03 L94.48,183.19 L94.57,183.35 L94.65,183.51 L94.74,183.66 L94.83,183.82 L94.91,183.98 L95.00,184.13 L95.09,184.28 L95.17,184.43 L95.26,184.58 L95.35,184.73 L95.43,184.88 L95.52,185.02 L95.61,185.17 L95.69,185.31 L95.78,185.46 L95.87,185.60 L95.95,185.74 L96.04,185.88 L96.13,186.02 L97.23,187.69 L98.33,189.24 L99.43,190.68 L100.53,192.04 L101.63,193.32 L102.73,194.54 L103.83,195.70 L104.93,196.82 L106.03,197.89 L107.13,198.93 L108.23,199.93 L109.33,200.90 L110.43,201.85 L111.53,202.77 L112.64,203.67 L113.74,204.54 L114.84,205.40 L115.94,206.25 L117.04,207.07 L118.14,207.88 L119.24,208.68 L120.34,209.46 L121.44,210.23 L122.54,210.99 L123.64,211.74 L124.74,212.48 L125.84,213.21 L126.94,213.94 L128.04,214.65 L129.14,215.35 L130.25,216.05 L131.35,216.74 L132.45,217.42 L133.55,218.10 L134.65,218.77 L135.75,219.43 L136.85,220.09 L137.95,220.75 L139.05,221.39 L140.15,222.04 L141.25,222.68 L142.35,223.31 L143.45,223.94 L144.55,224.56 L145.65,225.18 L146.75,225.80 L147.86,226.41 L148.96,227.02 L150.06,227.63 L151.16,228.23 L152.26,228.83 L153.36,229.43 L154.46,230.02 L155.56,230.61 L156.66,231.20 L157.76,231.78 L158.86,232.37 L159.96,232.95 L161.06,233.52 L162.16,234.10 L163.26,234.67 L164.36,235.24 L165.47,235.81 L166.57,236.37 L167.67,236.93 L168.77,237.49 L169.87,238.05 L170.97,238.61 L172.07,239.17 L173.17,239.72 L174.27,240.27 L175.37,240.82 L176.47,241.37 L177.57,241.91 L178.67,242.46 L179.77,243.00 L180.87,243.54 L181.97,244.08 L183.08,244.62 L184.18,245.16 L185.28,245.69 L186.38,246.23 L187.48,246.76 L188.58,247.29 L189.68,247.82 L190.78,248.35 L191.88,248.88 L192.98,249.40 L194.08,249.93 L195.18,250.45 L196.28,250.97 L197.38,251.50 L198.48,252.02 L199.58,252.54 L200.69,253.05 L201.79,253.57 L202.89,254.09 L203.99,254.60 L205.09,255.12 L206.19,255.63 L207.29,256.14 L208.39,256.66 L209.49,257.17 L210.59,257.68 L211.69,258.18 L212.79,258.69 L213.89,259.20 L214.99,259.71 L216.09,260.21 L217.19,260.72 L218.30,261.22 L219.40,261.72 L220.50,262.22 L221.60,262.73 L222.70,263.23 L223.80,263.73 L224.90,264.23 L226.00,264.72 L227.10,265.22 L228.20,265.72 L229.30,266.22 L230.40,266.71 L231.50,267.21 L232.60,267.70 L233.70,268.20 L234.80,268.69 L235.91,269.18 L237.01,269.67 L238.11,270.16 L239.21,270.66 L240.31,271.15 L241.41,271.64 L242.51,272.12 L243.61,272.61" fill="none" stroke="#58A7BF" stroke-width="1.45" stroke-linecap="butt" stroke-linejoin="round" stroke-dasharray="2.4 1.5" stroke-opacity="0.82"/>
<path d="M87.46,112.09 L87.47,112.41 L87.48,112.73 L87.49,113.04 L87.51,113.34 L87.52,113.63 L87.53,113.92 L87.54,114.20 L87.55,114.48 L87.57,114.75 L87.58,115.01 L87.59,115.27 L87.60,115.52 L87.62,115.77 L87.63,116.01 L87.64,116.25 L87.65,116.48 L87.66,116.71 L87.68,116.94 L87.69,117.16 L87.70,117.38 L87.71,117.59 L87.73,117.80 L87.74,118.01 L87.75,118.21 L87.76,118.41 L87.77,118.61 L87.79,118.80 L87.80,118.99 L87.81,119.18 L87.82,119.37 L87.84,119.55 L87.85,119.73 L87.86,119.91 L87.87,120.08 L87.89,120.26 L87.90,120.43 L87.91,120.60 L87.92,120.76 L87.93,120.93 L87.95,121.09 L87.96,121.25 L87.97,121.41 L87.98,121.56 L88.00,121.72 L88.01,121.87 L88.02,122.02 L88.03,122.17 L88.04,122.31 L88.06,122.46 L88.07,122.60 L88.08,122.75 L88.09,122.89 L88.11,123.03 L88.12,123.16 L88.13,123.30 L88.14,123.43 L88.15,123.57 L88.17,123.70 L88.18,123.83 L88.19,123.96 L88.20,124.09 L88.22,124.21 L88.23,124.34 L88.24,124.46 L88.25,124.59 L88.26,124.71 L88.28,124.83 L88.29,124.95 L88.30,125.07 L88.31,125.19 L88.33,125.30 L88.34,125.42 L88.35,125.53 L88.36,125.65 L88.38,125.76 L88.39,125.87 L88.40,125.98 L88.41,126.09 L88.42,126.20 L88.44,126.31 L88.45,126.42 L88.46,126.52 L88.47,126.63 L88.49,126.73 L88.50,126.83 L88.51,126.94 L88.52,127.04 L88.53,127.14 L88.55,127.24 L88.56,127.34 L88.57,127.44 L88.58,127.54 L88.60,127.64 L88.61,127.73 L88.62,127.83 L88.63,127.92 L88.64,128.02 L88.66,128.11 L88.67,128.21 L88.68,128.30 L88.69,128.39 L88.71,128.48 L88.72,128.57 L88.73,128.66 L88.74,128.75 L88.75,128.84 L88.77,128.93 L88.78,129.02 L88.79,129.11 L88.80,129.19 L88.82,129.28 L88.83,129.36 L88.84,129.45 L88.85,129.53 L88.87,129.62 L88.88,129.70 L88.89,129.78 L88.90,129.87 L88.91,129.95 L88.93,130.03 L88.94,130.11 L88.95,130.19 L88.96,130.27 L88.98,130.35 L88.99,130.43 L89.00,130.51 L89.01,130.59 L89.02,130.66 L89.04,130.74 L89.05,130.82 L89.06,130.89 L89.07,130.97 L89.09,131.04 L89.10,131.12 L89.11,131.19 L89.12,131.27 L89.13,131.34 L89.15,131.42 L89.16,131.49 L89.17,131.56 L89.18,131.63 L89.20,131.71 L89.21,131.78 L89.22,131.85 L89.23,131.92 L89.24,131.99 L89.26,132.06 L89.27,132.13 L89.28,132.20 L89.37,132.68 L89.45,133.14 L89.54,133.59 L89.63,134.03 L89.71,134.45 L89.80,134.86 L89.89,135.26 L89.97,135.65 L90.06,136.02 L90.15,136.39 L90.23,136.75 L90.32,137.10 L90.41,137.44 L90.49,137.77 L90.58,138.10 L90.67,138.42 L90.75,138.73 L90.84,139.03 L90.93,139.33 L91.01,139.63 L91.10,139.91 L91.19,140.20 L91.27,140.47 L91.36,140.75 L91.45,141.01 L91.53,141.28 L91.62,141.53 L91.71,141.79 L91.79,142.04 L91.88,142.28 L91.97,142.53 L92.05,142.77 L92.14,143.00 L92.23,143.23 L92.31,143.46 L92.40,143.69 L92.49,143.91 L92.57,144.13 L92.66,144.34 L92.75,144.56 L92.83,144.77 L92.92,144.97 L93.01,145.18 L93.09,145.38 L93.18,145.58 L93.27,145.78 L93.35,145.97 L93.44,146.17 L93.53,146.36 L93.61,146.55 L93.70,146.73 L93.79,146.92 L93.87,147.10 L93.96,147.28 L94.05,147.46 L94.13,147.64 L94.22,147.81 L94.31,147.99 L94.39,148.16 L94.48,148.33 L94.57,148.50 L94.65,148.66 L94.74,148.83 L94.83,148.99 L94.91,149.16 L95.00,149.32 L95.09,149.48 L95.17,149.64 L95.26,149.79 L95.35,149.95 L95.43,150.10 L95.52,150.25 L95.61,150.41 L95.69,150.56 L95.78,150.71 L95.87,150.85 L95.95,151.00 L96.04,151.15 L96.13,151.29 L97.23,153.04 L98.33,154.65 L99.43,156.14 L100.53,157.54 L101.63,158.86 L102.73,160.10 L103.83,161.29 L104.93,162.43 L106.03,163.52 L107.13,164.57 L108.23,165.58 L109.33,166.57 L110.43,167.52 L111.53,168.44 L112.64,169.34 L113.74,170.22 L114.84,171.08 L115.94,171.92 L117.04,172.74 L118.14,173.55 L119.24,174.34 L120.34,175.11 L121.44,175.88 L122.54,176.63 L123.64,177.37 L124.74,178.09 L125.84,178.81 L126.94,179.52 L128.04,180.22 L129.14,180.91 L130.25,181.59 L131.35,182.26 L132.45,182.93 L133.55,183.59 L134.65,184.24 L135.75,184.89 L136.85,185.53 L137.95,186.16 L139.05,186.79 L140.15,187.41 L141.25,188.03 L142.35,188.64 L143.45,189.25 L144.55,189.85 L145.65,190.45 L146.75,191.05 L147.86,191.64 L148.96,192.22 L150.06,192.80 L151.16,193.38 L152.26,193.96 L153.36,194.53 L154.46,195.10 L155.56,195.66 L156.66,196.23 L157.76,196.79 L158.86,197.34 L159.96,197.90 L161.06,198.45 L162.16,198.99 L163.26,199.54 L164.36,200.08 L165.47,200.62 L166.57,201.16 L167.67,201.70 L168.77,202.23 L169.87,202.76 L170.97,203.29 L172.07,203.82 L173.17,204.34 L174.27,204.87 L175.37,205.39 L176.47,205.91 L177.57,206.42 L178.67,206.94 L179.77,207.45 L180.87,207.97 L181.97,208.48 L183.08,208.98 L184.18,209.49 L185.28,210.00 L186.38,210.50 L187.48,211.00 L188.58,211.51 L189.68,212.01 L190.78,212.50 L191.88,213.00 L192.98,213.50 L194.08,213.99 L195.18,214.48 L196.28,214.98 L197.38,215.47 L198.48,215.96 L199.58,216.44 L200.69,216.93 L201.79,217.42 L202.89,217.90 L203.99,218.39 L205.09,218.87 L206.19,219.35 L207.29,219.83 L208.39,220.31 L209.49,220.79 L210.59,221.27 L211.69,221.74 L212.79,222.22 L213.89,222.69 L214.99,223.17 L216.09,223.64 L217.19,224.11 L218.30,224.58 L219.40,225.06 L220.50,225.52 L221.60,225.99 L222.70,226.46 L223.80,226.93 L224.90,227.39 L226.00,227.86 L227.10,228.33 L228.20,228.79 L229.30,229.25 L230.40,229.72 L231.50,230.18 L232.60,230.64 L233.70,231.10 L234.80,231.56 L235.91,232.02 L237.01,232.48 L238.11,232.93 L239.21,233.39 L240.31,233.85 L241.41,234.30 L242.51,234.76 L243.61,235.21 L244.71,235.67 L245.81,236.12 L246.91,236.57 L248.01,237.03 L249.11,237.48 L250.21,237.93 L251.31,238.38 L252.41,238.83 L253.52,239.28 L254.62,239.73 L255.72,240.18 L256.82,240.63 L257.92,241.07 L259.02,241.52 L260.12,241.97 L261.22,242.41 L262.32,242.86 L263.42,243.30 L264.52,243.75 L265.62,244.19 L266.72,244.64 L267.82,245.08 L268.92,245.52 L270.02,245.96 L271.13,246.41 L272.23,246.85 L273.33,247.29 L274.43,247.73 L275.53,248.17 L276.63,248.61 L277.73,249.05 L278.83,249.49 L279.93,249.93 L281.03,250.36 L282.13,250.80 L283.23,251.24 L284.33,251.68 L285.43,252.11 L286.53,252.55 L287.63,252.99 L288.74,253.42 L289.84,253.86 L290.94,254.29 L292.04,254.73 L293.14,255.16 L294.24,255.59 L295.34,256.03 L296.44,256.46 L297.54,256.89 L298.64,257.33 L299.74,257.76 L300.84,258.19 L301.94,258.62 L303.04,259.05 L304.14,259.48 L305.24,259.91 L306.35,260.34 L307.45,260.77 L308.55,261.20 L309.65,261.63 L310.75,262.06 L311.85,262.49 L312.95,262.92 L314.05,263.35 L315.15,263.77" fill="none" stroke="#BA6A66" stroke-width="1.45" stroke-linecap="butt" stroke-linejoin="round" stroke-dasharray="2.4 1.5" stroke-opacity="0.82"/>
<path d="M87.28,108.71 L87.29,108.99 L87.30,109.27 L87.32,109.54 L87.33,109.80 L87.35,110.06 L87.36,110.31 L87.37,110.56 L87.39,110.80 L87.40,111.04 L87.41,111.27 L87.43,111.49 L87.44,111.71 L87.45,111.93 L87.47,112.15 L87.48,112.35 L87.49,112.56 L87.51,112.76 L87.52,112.96 L87.53,113.16 L87.55,113.35 L87.56,113.54 L87.57,113.72 L87.59,113.90 L87.60,114.08 L87.61,114.26 L87.63,114.43 L87.64,114.60 L87.65,114.77 L87.67,114.94 L87.68,115.10 L87.69,115.26 L87.71,115.42 L87.72,115.58 L87.74,115.74 L87.75,115.89 L87.76,116.04 L87.78,116.19 L87.79,116.34 L87.80,116.48 L87.82,116.62 L87.83,116.77 L87.84,116.91 L87.86,117.04 L87.87,117.18 L87.88,117.32 L87.90,117.45 L87.91,117.58 L87.92,117.71 L87.94,117.84 L87.95,117.97 L87.96,118.09 L87.98,118.22 L87.99,118.34 L88.00,118.46 L88.02,118.58 L88.03,118.70 L88.04,118.82 L88.06,118.94 L88.07,119.06 L88.08,119.17 L88.10,119.28 L88.11,119.40 L88.13,119.51 L88.14,119.62 L88.15,119.73 L88.17,119.84 L88.18,119.94 L88.19,120.05 L88.21,120.16 L88.22,120.26 L88.23,120.37 L88.25,120.47 L88.26,120.57 L88.27,120.67 L88.29,120.77 L88.30,120.87 L88.31,120.97 L88.33,121.07 L88.34,121.16 L88.35,121.26 L88.37,121.35 L88.38,121.45 L88.39,121.54 L88.41,121.64 L88.42,121.73 L88.43,121.82 L88.45,121.91 L88.46,122.00 L88.47,122.09 L88.49,122.18 L88.50,122.27 L88.52,122.36 L88.53,122.44 L88.54,122.53 L88.56,122.62 L88.57,122.70 L88.58,122.79 L88.60,122.87 L88.61,122.95 L88.62,123.04 L88.64,123.12 L88.65,123.20 L88.66,123.28 L88.68,123.36 L88.69,123.44 L88.70,123.52 L88.72,123.60 L88.73,123.68 L88.74,123.76 L88.76,123.83 L88.77,123.91 L88.78,123.99 L88.80,124.06 L88.81,124.14 L88.82,124.21 L88.84,124.29 L88.85,124.36 L88.86,124.44 L88.88,124.51 L88.89,124.58 L88.90,124.66 L88.92,124.73 L88.93,124.80 L88.95,124.87 L88.96,124.94 L88.97,125.01 L88.99,125.08 L89.00,125.15 L89.01,125.22 L89.03,125.29 L89.04,125.36 L89.05,125.43 L89.07,125.49 L89.08,125.56 L89.09,125.63 L89.11,125.69 L89.12,125.76 L89.13,125.83 L89.15,125.89 L89.16,125.96 L89.17,126.02 L89.19,126.09 L89.20,126.15 L89.21,126.21 L89.23,126.28 L89.24,126.34 L89.25,126.40 L89.27,126.47 L89.28,126.53 L89.37,126.92 L89.45,127.31 L89.54,127.68 L89.63,128.04 L89.71,128.39 L89.80,128.73 L89.89,129.06 L89.97,129.39 L90.06,129.70 L90.15,130.01 L90.23,130.31 L90.32,130.61 L90.41,130.90 L90.49,131.18 L90.58,131.46 L90.67,131.73 L90.75,131.99 L90.84,132.26 L90.93,132.51 L91.01,132.76 L91.10,133.01 L91.19,133.25 L91.27,133.49 L91.36,133.73 L91.45,133.96 L91.53,134.18 L91.62,134.41 L91.71,134.63 L91.79,134.84 L91.88,135.06 L91.97,135.27 L92.05,135.48 L92.14,135.68 L92.23,135.88 L92.31,136.08 L92.40,136.28 L92.49,136.47 L92.57,136.66 L92.66,136.85 L92.75,137.04 L92.83,137.22 L92.92,137.41 L93.01,137.59 L93.09,137.77 L93.18,137.94 L93.27,138.12 L93.35,138.29 L93.44,138.46 L93.53,138.63 L93.61,138.79 L93.70,138.96 L93.79,139.12 L93.87,139.28 L93.96,139.44 L94.05,139.60 L94.13,139.76 L94.22,139.92 L94.31,140.07 L94.39,140.22 L94.48,140.37 L94.57,140.52 L94.65,140.67 L94.74,140.82 L94.83,140.97 L94.91,141.11 L95.00,141.26 L95.09,141.40 L95.17,141.54 L95.26,141.68 L95.35,141.82 L95.43,141.96 L95.52,142.09 L95.61,142.23 L95.69,142.36 L95.78,142.50 L95.87,142.63 L95.95,142.76 L96.04,142.89 L96.13,143.02 L97.23,144.60 L98.33,146.06 L99.43,147.42 L100.53,148.69 L101.63,149.90 L102.73,151.05 L103.83,152.15 L104.93,153.20 L106.03,154.21 L107.13,155.19 L108.23,156.14 L109.33,157.06 L110.43,157.95 L111.53,158.82 L112.64,159.67 L113.74,160.50 L114.84,161.31 L115.94,162.10 L117.04,162.88 L118.14,163.65 L119.24,164.40 L120.34,165.14 L121.44,165.87 L122.54,166.58 L123.64,167.29 L124.74,167.99 L125.84,168.68 L126.94,169.36 L128.04,170.03 L129.14,170.69 L130.25,171.35 L131.35,172.00 L132.45,172.64 L133.55,173.28 L134.65,173.91 L135.75,174.54 L136.85,175.16 L137.95,175.77 L139.05,176.38 L140.15,176.99 L141.25,177.59 L142.35,178.18 L143.45,178.77 L144.55,179.36 L145.65,179.95 L146.75,180.53 L147.86,181.10 L148.96,181.68 L150.06,182.25 L151.16,182.81 L152.26,183.38 L153.36,183.94 L154.46,184.49 L155.56,185.05 L156.66,185.60 L157.76,186.15 L158.86,186.70 L159.96,187.24 L161.06,187.78 L162.16,188.32 L163.26,188.86 L164.36,189.39 L165.47,189.93 L166.57,190.46 L167.67,190.99 L168.77,191.51 L169.87,192.04 L170.97,192.56 L172.07,193.08 L173.17,193.60 L174.27,194.12 L175.37,194.63 L176.47,195.15 L177.57,195.66 L178.67,196.17 L179.77,196.68 L180.87,197.19 L181.97,197.69 L183.08,198.20 L184.18,198.70 L185.28,199.20 L186.38,199.70 L187.48,200.20 L188.58,200.70 L189.68,201.20 L190.78,201.69 L191.88,202.19 L192.98,202.68 L194.08,203.17 L195.18,203.66 L196.28,204.15 L197.38,204.64 L198.48,205.13 L199.58,205.62 L200.69,206.10 L201.79,206.59 L202.89,207.07 L203.99,207.55 L205.09,208.03 L206.19,208.51 L207.29,208.99 L208.39,209.47 L209.49,209.95 L210.59,210.43 L211.69,210.90 L212.79,211.38 L213.89,211.86 L214.99,212.33 L216.09,212.80 L217.19,213.27 L218.30,213.75 L219.40,214.22 L220.50,214.69 L221.60,215.16 L222.70,215.62 L223.80,216.09 L224.90,216.56 L226.00,217.03 L227.10,217.49 L228.20,217.96 L229.30,218.42 L230.40,218.89 L231.50,219.35 L232.60,219.81 L233.70,220.27 L234.80,220.74 L235.91,221.20 L237.01,221.66 L238.11,222.12 L239.21,222.58 L240.31,223.03 L241.41,223.49 L242.51,223.95 L243.61,224.41 L244.71,224.86 L245.81,225.32 L246.91,225.77 L248.01,226.23 L249.11,226.68 L250.21,227.14 L251.31,227.59 L252.41,228.04 L253.52,228.50 L254.62,228.95 L255.72,229.40 L256.82,229.85 L257.92,230.30 L259.02,230.75 L260.12,231.20 L261.22,231.65 L262.32,232.10 L263.42,232.55 L264.52,233.00 L265.62,233.44 L266.72,233.89 L267.82,234.34 L268.92,234.78 L270.02,235.23 L271.13,235.68 L272.23,236.12 L273.33,236.57 L274.43,237.01 L275.53,237.45 L276.63,237.90 L277.73,238.34 L278.83,238.78 L279.93,239.23 L281.03,239.67 L282.13,240.11 L283.23,240.55 L284.33,240.99 L285.43,241.43 L286.53,241.88 L287.63,242.32 L288.74,242.76 L289.84,243.20 L290.94,243.63 L292.04,244.07 L293.14,244.51 L294.24,244.95 L295.34,245.39 L296.44,245.83 L297.54,246.26 L298.64,246.70 L299.74,247.14 L300.84,247.58 L301.94,248.01 L303.04,248.45 L304.14,248.88 L305.24,249.32 L306.35,249.75 L307.45,250.19 L308.55,250.62 L309.65,251.06 L310.75,251.49 L311.85,251.93 L312.95,252.36 L314.05,252.79 L315.15,253.23" fill="none" stroke="#9A89C4" stroke-width="1.45" stroke-linecap="butt" stroke-linejoin="round" stroke-dasharray="2.4 1.5" stroke-opacity="0.82"/>
<path d="M87.46,162.57 L87.47,162.77 L87.48,162.96 L87.49,163.14 L87.51,163.32 L87.52,163.50 L87.53,163.68 L87.54,163.84 L87.55,164.01 L87.57,164.17 L87.58,164.33 L87.59,164.49 L87.60,164.64 L87.62,164.79 L87.63,164.94 L87.64,165.08 L87.65,165.22 L87.66,165.36 L87.68,165.50 L87.69,165.63 L87.70,165.76 L87.71,165.89 L87.73,166.02 L87.74,166.15 L87.75,166.27 L87.76,166.39 L87.77,166.51 L87.79,166.63 L87.80,166.74 L87.81,166.86 L87.82,166.97 L87.84,167.08 L87.85,167.19 L87.86,167.30 L87.87,167.41 L87.89,167.51 L87.90,167.61 L87.91,167.72 L87.92,167.82 L87.93,167.92 L87.95,168.02 L87.96,168.11 L87.97,168.21 L87.98,168.30 L88.00,168.40 L88.01,168.49 L88.02,168.58 L88.03,168.67 L88.04,168.76 L88.06,168.85 L88.07,168.94 L88.08,169.03 L88.09,169.11 L88.11,169.20 L88.12,169.28 L88.13,169.36 L88.14,169.45 L88.15,169.53 L88.17,169.61 L88.18,169.69 L88.19,169.77 L88.20,169.84 L88.22,169.92 L88.23,170.00 L88.24,170.08 L88.25,170.15 L88.26,170.23 L88.28,170.30 L88.29,170.37 L88.30,170.45 L88.31,170.52 L88.33,170.59 L88.34,170.66 L88.35,170.73 L88.36,170.80 L88.38,170.87 L88.39,170.94 L88.40,171.00 L88.41,171.07 L88.42,171.14 L88.44,171.20 L88.45,171.27 L88.46,171.34 L88.47,171.40 L88.49,171.46 L88.50,171.53 L88.51,171.59 L88.52,171.65 L88.53,171.72 L88.55,171.78 L88.56,171.84 L88.57,171.90 L88.58,171.96 L88.60,172.02 L88.61,172.08 L88.62,172.14 L88.63,172.20 L88.64,172.26 L88.66,172.32 L88.67,172.37 L88.68,172.43 L88.69,172.49 L88.71,172.54 L88.72,172.60 L88.73,172.65 L88.74,172.71 L88.75,172.77 L88.77,172.82 L88.78,172.87 L88.79,172.93 L88.80,172.98 L88.82,173.03 L88.83,173.09 L88.84,173.14 L88.85,173.19 L88.87,173.24 L88.88,173.30 L88.89,173.35 L88.90,173.40 L88.91,173.45 L88.93,173.50 L88.94,173.55 L88.95,173.60 L88.96,173.65 L88.98,173.70 L88.99,173.75 L89.00,173.80 L89.01,173.84 L89.02,173.89 L89.04,173.94 L89.05,173.99 L89.06,174.04 L89.07,174.08 L89.09,174.13 L89.10,174.18 L89.11,174.22 L89.12,174.27 L89.13,174.32 L89.15,174.36 L89.16,174.41 L89.17,174.45 L89.18,174.50 L89.20,174.54 L89.21,174.59 L89.22,174.63 L89.23,174.67 L89.24,174.72 L89.26,174.76 L89.27,174.81 L89.28,174.85 L89.37,175.15 L89.45,175.44 L89.54,175.72 L89.63,175.99 L89.71,176.26 L89.80,176.52 L89.89,176.77 L89.97,177.01 L90.06,177.25 L90.15,177.48 L90.23,177.71 L90.32,177.93 L90.41,178.15 L90.49,178.36 L90.58,178.57 L90.67,178.77 L90.75,178.97 L90.84,179.16 L90.93,179.36 L91.01,179.54 L91.10,179.73 L91.19,179.91 L91.27,180.09 L91.36,180.26 L91.45,180.44 L91.53,180.61 L91.62,180.77 L91.71,180.94 L91.79,181.10 L91.88,181.26 L91.97,181.42 L92.05,181.57 L92.14,181.73 L92.23,181.88 L92.31,182.03 L92.40,182.18 L92.49,182.32 L92.57,182.47 L92.66,182.61 L92.75,182.75 L92.83,182.89 L92.92,183.02 L93.01,183.16 L93.09,183.29 L93.18,183.43 L93.27,183.56 L93.35,183.69 L93.44,183.82 L93.53,183.94 L93.61,184.07 L93.70,184.19 L93.79,184.32 L93.87,184.44 L93.96,184.56 L94.05,184.68 L94.13,184.80 L94.22,184.92 L94.31,185.03 L94.39,185.15 L94.48,185.26 L94.57,185.38 L94.65,185.49 L94.74,185.60 L94.83,185.71 L94.91,185.82 L95.00,185.93 L95.09,186.04 L95.17,186.15 L95.26,186.25 L95.35,186.36 L95.43,186.47 L95.52,186.57 L95.61,186.67 L95.69,186.78 L95.78,186.88 L95.87,186.98 L95.95,187.08 L96.04,187.18 L96.13,187.28 L97.23,188.49 L98.33,189.62 L99.43,190.68 L100.53,191.68 L101.63,192.63 L102.73,193.54 L103.83,194.42 L104.93,195.26 L106.03,196.08 L107.13,196.88 L108.23,197.65 L109.33,198.40 L110.43,199.14 L111.53,199.86 L112.64,200.56 L113.74,201.25 L114.84,201.93 L115.94,202.60 L117.04,203.26 L118.14,203.91 L119.24,204.54 L120.34,205.17 L121.44,205.80 L122.54,206.41 L123.64,207.02 L124.74,207.62 L125.84,208.22 L126.94,208.81 L128.04,209.39 L129.14,209.97 L130.25,210.54 L131.35,211.11 L132.45,211.68 L133.55,212.24 L134.65,212.79 L135.75,213.35 L136.85,213.90 L137.95,214.44 L139.05,214.98 L140.15,215.52 L141.25,216.06 L142.35,216.59 L143.45,217.12 L144.55,217.65 L145.65,218.17 L146.75,218.69 L147.86,219.21 L148.96,219.73 L150.06,220.25 L151.16,220.76 L152.26,221.27 L153.36,221.78 L154.46,222.28 L155.56,222.79 L156.66,223.29 L157.76,223.79 L158.86,224.29 L159.96,224.79 L161.06,225.28 L162.16,225.78 L163.26,226.27 L164.36,226.76 L165.47,227.25 L166.57,227.74 L167.67,228.23 L168.77,228.71 L169.87,229.20 L170.97,229.68 L172.07,230.16 L173.17,230.64 L174.27,231.12 L175.37,231.60 L176.47,232.08 L177.57,232.55 L178.67,233.03 L179.77,233.50 L180.87,233.97 L181.97,234.45 L183.08,234.92 L184.18,235.39 L185.28,235.85 L186.38,236.32 L187.48,236.79 L188.58,237.26 L189.68,237.72 L190.78,238.19 L191.88,238.65 L192.98,239.11 L194.08,239.58 L195.18,240.04 L196.28,240.50 L197.38,240.96 L198.48,241.42 L199.58,241.88 L200.69,242.33 L201.79,242.79 L202.89,243.25 L203.99,243.70 L205.09,244.16 L206.19,244.61 L207.29,245.07 L208.39,245.52 L209.49,245.97 L210.59,246.43 L211.69,246.88 L212.79,247.33 L213.89,247.78 L214.99,248.23 L216.09,248.68 L217.19,249.13 L218.30,249.58 L219.40,250.02 L220.50,250.47 L221.60,250.92 L222.70,251.36 L223.80,251.81 L224.90,252.26 L226.00,252.70 L227.10,253.14 L228.20,253.59 L229.30,254.03 L230.40,254.48 L231.50,254.92 L232.60,255.36 L233.70,255.80 L234.80,256.24 L235.91,256.69 L237.01,257.13 L238.11,257.57 L239.21,258.01 L240.31,258.45 L241.41,258.89 L242.51,259.32 L243.61,259.76 L244.71,260.20 L245.81,260.64 L246.91,261.08 L248.01,261.51 L249.11,261.95 L250.21,262.39 L251.31,262.82 L252.41,263.26 L253.52,263.69 L254.62,264.13 L255.72,264.56 L256.82,265.00 L257.92,265.43 L259.02,265.87 L260.12,266.30 L261.22,266.73 L262.32,267.17 L263.42,267.60 L264.52,268.03 L265.62,268.46 L266.72,268.90 L267.82,269.33 L268.92,269.76 L270.02,270.19 L271.13,270.62 L272.23,271.05 L273.33,271.48 L274.43,271.91 L275.53,272.34 L276.63,272.77" fill="none" stroke="#F18E40" stroke-width="1.45" stroke-linecap="butt" stroke-linejoin="round" stroke-dasharray="2.4 1.5" stroke-opacity="0.82"/>
<path d="M393.30,164.04 L393.34,164.58 L393.38,165.11 L393.42,165.62 L393.46,166.11 L393.51,166.59 L393.55,167.05 L393.59,167.50 L393.63,167.94 L393.67,168.37 L393.71,168.78 L393.75,169.18 L393.79,169.58 L393.83,169.96 L393.87,170.33 L393.92,170.70 L393.96,171.05 L394.00,171.40 L394.04,171.74 L394.08,172.08 L394.12,172.40 L394.16,172.72 L394.20,173.04 L394.24,173.34 L394.28,173.64 L394.33,173.94 L394.37,174.23 L394.41,174.51 L394.45,174.79 L394.49,175.07 L394.53,175.34 L394.57,175.60 L394.61,175.86 L394.65,176.12 L394.69,176.37 L394.74,176.62 L394.78,176.86 L394.82,177.10 L394.86,177.34 L394.90,177.57 L394.94,177.80 L394.98,178.03 L395.02,178.25 L395.06,178.47 L395.11,178.69 L395.15,178.90 L395.19,179.11 L395.23,179.32 L395.27,179.53 L395.31,179.73 L395.35,179.93 L395.39,180.13 L395.43,180.32 L395.47,180.51 L395.52,180.70 L395.56,180.89 L395.60,181.08 L395.64,181.26 L395.68,181.44 L395.72,181.62 L395.76,181.80 L395.80,181.97 L395.84,182.15 L395.88,182.32 L395.93,182.49 L395.97,182.66 L396.01,182.82 L396.05,182.99 L396.09,183.15 L396.13,183.31 L396.17,183.47 L396.21,183.62 L396.25,183.78 L396.29,183.93 L396.34,184.09 L396.38,184.24 L396.42,184.39 L396.46,184.54 L396.50,184.68 L396.54,184.83 L396.58,184.97 L396.62,185.12 L396.66,185.26 L396.70,185.40 L396.75,185.54 L396.79,185.68 L396.83,185.81 L396.87,185.95 L396.91,186.08 L396.95,186.22 L396.99,186.35 L397.03,186.48 L397.07,186.61 L397.12,186.74 L397.16,186.87 L397.20,186.99 L397.24,187.12 L397.28,187.24 L397.32,187.37 L397.36,187.49 L397.40,187.61 L397.44,187.73 L397.48,187.85 L397.53,187.97 L397.57,188.09 L397.61,188.21 L397.65,188.32 L397.69,188.44 L397.73,188.55 L397.77,188.67 L397.81,188.78 L397.85,188.89 L397.89,189.00 L397.94,189.11 L397.98,189.22 L398.02,189.33 L398.06,189.44 L398.10,189.55 L398.14,189.65 L398.18,189.76 L398.22,189.87 L398.26,189.97 L398.30,190.07 L398.35,190.18 L398.39,190.28 L398.43,190.38 L398.47,190.48 L398.51,190.58 L398.55,190.68 L398.59,190.78 L398.63,190.88 L398.67,190.98 L398.72,191.08 L398.76,191.17 L398.80,191.27 L398.84,191.37 L398.88,191.46 L398.92,191.56 L398.96,191.65 L399.00,191.74 L399.04,191.84 L399.08,191.93 L399.13,192.02 L399.17,192.11 L399.21,192.20 L399.25,192.29 L399.29,192.38 L399.33,192.47 L399.37,192.56 L399.41,192.65 L399.64,193.14 L399.88,193.61 L400.11,194.07 L400.34,194.52 L400.57,194.96 L400.81,195.38 L401.04,195.79 L401.27,196.20 L401.50,196.59 L401.73,196.97 L401.97,197.34 L402.20,197.71 L402.43,198.06 L402.66,198.41 L402.89,198.75 L403.13,199.09 L403.36,199.42 L403.59,199.74 L403.82,200.05 L404.05,200.36 L404.29,200.66 L404.52,200.96 L404.75,201.25 L404.98,201.54 L405.22,201.82 L405.45,202.09 L405.68,202.36 L405.91,202.63 L406.14,202.89 L406.38,203.15 L406.61,203.41 L406.84,203.66 L407.07,203.90 L407.30,204.14 L407.54,204.38 L407.77,204.62 L408.00,204.85 L408.23,205.08 L408.47,205.31 L408.70,205.53 L408.93,205.75 L409.16,205.96 L409.39,206.18 L409.63,206.39 L409.86,206.60 L410.09,206.80 L410.32,207.00 L410.55,207.20 L410.79,207.40 L411.02,207.60 L411.25,207.79 L411.48,207.98 L411.71,208.17 L411.95,208.36 L412.18,208.54 L412.41,208.72 L412.64,208.90 L412.88,209.08 L413.11,209.26 L413.34,209.43 L413.57,209.61 L413.80,209.78 L414.04,209.95 L414.27,210.11 L414.50,210.28 L414.73,210.44 L414.96,210.60 L415.20,210.77 L415.43,210.92 L415.66,211.08 L415.89,211.24 L416.13,211.39 L416.36,211.55 L416.59,211.70 L416.82,211.85 L417.05,212.00 L417.29,212.15 L417.52,212.29 L417.75,212.44 L418.86,213.11 L419.96,213.76 L421.07,214.38 L422.17,214.98 L423.28,215.56 L424.38,216.12 L425.49,216.67 L426.60,217.19 L427.70,217.70 L428.81,218.20 L429.91,218.68 L431.02,219.15 L432.13,219.60 L433.23,220.04 L434.34,220.48 L435.44,220.90 L436.55,221.31 L437.65,221.71 L438.76,222.11 L439.87,222.49 L440.97,222.87 L442.08,223.23 L443.18,223.59 L444.29,223.95 L445.39,224.29 L446.50,224.63 L447.61,224.97 L448.71,225.30 L449.82,225.62 L450.92,225.93 L452.03,226.24 L453.13,226.55 L454.24,226.85 L455.35,227.14 L456.45,227.43 L457.56,227.72 L458.66,228.00 L459.77,228.28 L460.88,228.55 L461.98,228.82 L463.09,229.09 L464.19,229.35 L465.30,229.61 L466.40,229.86 L467.51,230.11 L468.62,230.36 L469.72,230.60 L470.83,230.84 L471.93,231.08 L473.04,231.32 L474.14,231.55 L475.25,231.78 L476.36,232.01 L477.46,232.23 L478.57,232.45 L479.67,232.67 L480.78,232.89 L481.89,233.10 L482.99,233.32 L484.10,233.52 L485.20,233.73 L486.31,233.94 L487.41,234.14 L488.52,234.34 L489.63,234.54 L490.73,234.74 L491.84,234.93 L492.94,235.13 L494.05,235.32 L495.15,235.51 L496.26,235.70 L497.37,235.88 L498.47,236.07 L499.58,236.25 L500.68,236.43 L501.79,236.61 L502.89,236.79 L504.00,236.96 L505.11,237.14 L506.21,237.31 L507.32,237.48 L508.42,237.65 L509.53,237.82 L510.64,237.99 L511.74,238.16 L512.85,238.32 L513.95,238.49 L515.06,238.65 L516.16,238.81 L517.27,238.97 L518.38,239.13 L519.48,239.29 L520.59,239.44 L521.69,239.60 L522.80,239.75 L523.90,239.91 L525.01,240.06 L526.12,240.21 L527.22,240.36 L528.33,240.51 L529.43,240.66 L530.54,240.80 L531.65,240.95 L532.75,241.10 L533.86,241.24 L534.96,241.38 L536.07,241.53 L537.17,241.67 L538.28,241.81 L539.39,241.95 L540.49,242.09 L541.60,242.22 L542.70,242.36 L543.81,242.50 L544.91,242.63 L546.02,242.77 L547.13,242.90 L548.23,243.03 L549.34,243.17 L550.44,243.30 L551.55,243.43 L552.66,243.56 L553.76,243.69 L554.87,243.81 L555.97,243.94 L557.08,244.07 L558.18,244.20 L559.29,244.32 L560.40,244.45 L561.50,244.57 L562.61,244.69 L563.71,244.82 L564.82,244.94 L565.92,245.06 L567.03,245.18 L568.14,245.30 L569.24,245.42 L570.35,245.54 L571.45,245.66 L572.56,245.78 L573.66,245.90 L574.77,246.01 L575.88,246.13 L576.98,246.25 L578.09,246.36 L579.19,246.48 L580.30,246.59 L581.41,246.70 L582.51,246.82 L583.62,246.93 L584.72,247.04 L585.83,247.15 L586.93,247.27 L588.04,247.38 L589.15,247.49 L590.25,247.60 L591.36,247.71 L592.46,247.81 L593.57,247.92 L594.67,248.03 L595.78,248.14 L596.89,248.24 L597.99,248.35 L599.10,248.46 L600.20,248.56 L601.31,248.67 L602.42,248.77 L603.52,248.88 L604.63,248.98 L605.73,249.08 L606.84,249.19 L607.94,249.29 L609.05,249.39 L610.16,249.49 L611.26,249.59 L612.37,249.70 L613.47,249.80 L614.58,249.90 L615.68,250.00 L616.79,250.10 L617.90,250.19 L619.00,250.29 L620.11,250.39 L621.21,250.49 L622.32,250.59 L623.42,250.68 L624.53,250.78 L625.64,250.88 L626.74,250.97 L627.85,251.07 L628.95,251.17 L630.06,251.26 L631.17,251.36 L632.27,251.45 L633.38,251.55 L634.48,251.64 L635.59,251.73 L636.69,251.83 L637.80,251.92" fill="none" stroke="#58A7BF" stroke-width="1.45" stroke-linecap="butt" stroke-linejoin="round"/>
<path d="M393.47,112.28 L393.51,113.23 L393.55,114.12 L393.59,114.96 L393.63,115.76 L393.67,116.52 L393.71,117.24 L393.74,117.93 L393.78,118.59 L393.82,119.22 L393.86,119.83 L393.90,120.42 L393.94,120.98 L393.98,121.52 L394.02,122.05 L394.06,122.56 L394.10,123.05 L394.14,123.52 L394.18,123.99 L394.22,124.43 L394.26,124.87 L394.30,125.29 L394.34,125.70 L394.38,126.11 L394.42,126.50 L394.46,126.88 L394.50,127.25 L394.54,127.61 L394.58,127.97 L394.62,128.32 L394.66,128.66 L394.70,128.99 L394.74,129.31 L394.78,129.63 L394.82,129.94 L394.86,130.25 L394.90,130.55 L394.94,130.84 L394.98,131.13 L395.02,131.41 L395.06,131.69 L395.10,131.96 L395.14,132.23 L395.18,132.50 L395.22,132.76 L395.26,133.01 L395.30,133.26 L395.34,133.51 L395.38,133.75 L395.42,133.99 L395.46,134.23 L395.50,134.46 L395.54,134.69 L395.58,134.91 L395.62,135.14 L395.66,135.35 L395.70,135.57 L395.74,135.78 L395.78,135.99 L395.82,136.20 L395.86,136.40 L395.90,136.61 L395.94,136.81 L395.98,137.00 L396.02,137.20 L396.06,137.39 L396.10,137.58 L396.14,137.76 L396.18,137.95 L396.22,138.13 L396.26,138.31 L396.30,138.49 L396.34,138.67 L396.38,138.84 L396.42,139.01 L396.46,139.18 L396.50,139.35 L396.54,139.52 L396.58,139.69 L396.62,139.85 L396.66,140.01 L396.70,140.17 L396.74,140.33 L396.78,140.49 L396.82,140.64 L396.86,140.80 L396.90,140.95 L396.94,141.10 L396.98,141.25 L397.02,141.40 L397.06,141.54 L397.10,141.69 L397.14,141.83 L397.18,141.97 L397.22,142.11 L397.26,142.25 L397.30,142.39 L397.34,142.53 L397.38,142.67 L397.42,142.80 L397.46,142.94 L397.50,143.07 L397.54,143.20 L397.58,143.33 L397.62,143.46 L397.66,143.59 L397.70,143.72 L397.74,143.84 L397.78,143.97 L397.82,144.09 L397.86,144.21 L397.90,144.34 L397.94,144.46 L397.98,144.58 L398.02,144.70 L398.06,144.82 L398.10,144.93 L398.14,145.05 L398.18,145.17 L398.22,145.28 L398.26,145.40 L398.29,145.51 L398.33,145.62 L398.37,145.73 L398.41,145.85 L398.45,145.96 L398.49,146.07 L398.53,146.17 L398.57,146.28 L398.61,146.39 L398.65,146.50 L398.69,146.60 L398.73,146.71 L398.77,146.81 L398.81,146.91 L398.85,147.02 L398.89,147.12 L398.93,147.22 L398.97,147.32 L399.01,147.42 L399.05,147.52 L399.09,147.62 L399.13,147.72 L399.17,147.82 L399.21,147.92 L399.25,148.01 L399.29,148.11 L399.33,148.20 L399.37,148.30 L399.41,148.39 L399.64,148.93 L399.88,149.45 L400.11,149.95 L400.34,150.44 L400.57,150.91 L400.81,151.37 L401.04,151.82 L401.27,152.25 L401.50,152.68 L401.73,153.09 L401.97,153.49 L402.20,153.88 L402.43,154.26 L402.66,154.63 L402.89,155.00 L403.13,155.35 L403.36,155.70 L403.59,156.04 L403.82,156.38 L404.05,156.70 L404.29,157.02 L404.52,157.34 L404.75,157.65 L404.98,157.95 L405.22,158.25 L405.45,158.54 L405.68,158.82 L405.91,159.10 L406.14,159.38 L406.38,159.65 L406.61,159.92 L406.84,160.18 L407.07,160.44 L407.30,160.70 L407.54,160.95 L407.77,161.19 L408.00,161.44 L408.23,161.68 L408.47,161.91 L408.70,162.15 L408.93,162.37 L409.16,162.60 L409.39,162.82 L409.63,163.04 L409.86,163.26 L410.09,163.48 L410.32,163.69 L410.55,163.90 L410.79,164.10 L411.02,164.31 L411.25,164.51 L411.48,164.71 L411.71,164.90 L411.95,165.10 L412.18,165.29 L412.41,165.48 L412.64,165.67 L412.88,165.85 L413.11,166.04 L413.34,166.22 L413.57,166.40 L413.80,166.58 L414.04,166.75 L414.27,166.93 L414.50,167.10 L414.73,167.27 L414.96,167.44 L415.20,167.60 L415.43,167.77 L415.66,167.93 L415.89,168.10 L416.13,168.26 L416.36,168.42 L416.59,168.57 L416.82,168.73 L417.05,168.88 L417.29,169.04 L417.52,169.19 L417.75,169.34 L418.86,170.04 L419.96,170.71 L421.07,171.36 L422.17,171.98 L423.28,172.58 L424.38,173.16 L425.49,173.73 L426.60,174.27 L427.70,174.80 L428.81,175.31 L429.91,175.81 L431.02,176.30 L432.13,176.77 L433.23,177.23 L434.34,177.68 L435.44,178.12 L436.55,178.55 L437.65,178.96 L438.76,179.37 L439.87,179.77 L440.97,180.16 L442.08,180.55 L443.18,180.92 L444.29,181.29 L445.39,181.65 L446.50,182.01 L447.61,182.36 L448.71,182.70 L449.82,183.03 L450.92,183.36 L452.03,183.69 L453.13,184.01 L454.24,184.32 L455.35,184.63 L456.45,184.94 L457.56,185.24 L458.66,185.53 L459.77,185.82 L460.88,186.11 L461.98,186.39 L463.09,186.67 L464.19,186.95 L465.30,187.22 L466.40,187.48 L467.51,187.75 L468.62,188.01 L469.72,188.27 L470.83,188.52 L471.93,188.77 L473.04,189.02 L474.14,189.27 L475.25,189.51 L476.36,189.75 L477.46,189.99 L478.57,190.22 L479.67,190.46 L480.78,190.69 L481.89,190.91 L482.99,191.14 L484.10,191.36 L485.20,191.58 L486.31,191.80 L487.41,192.02 L488.52,192.23 L489.63,192.44 L490.73,192.65 L491.84,192.86 L492.94,193.07 L494.05,193.27 L495.15,193.47 L496.26,193.67 L497.37,193.87 L498.47,194.07 L499.58,194.27 L500.68,194.46 L501.79,194.65 L502.89,194.84 L504.00,195.03 L505.11,195.22 L506.21,195.41 L507.32,195.59 L508.42,195.78 L509.53,195.96 L510.64,196.14 L511.74,196.32 L512.85,196.50 L513.95,196.67 L515.06,196.85 L516.16,197.02 L517.27,197.19 L518.38,197.37 L519.48,197.54 L520.59,197.71 L521.69,197.87 L522.80,198.04 L523.90,198.21 L525.01,198.37 L526.12,198.54 L527.22,198.70 L528.33,198.86 L529.43,199.02 L530.54,199.18 L531.65,199.34 L532.75,199.50 L533.86,199.66 L534.96,199.81 L536.07,199.97 L537.17,200.12 L538.28,200.27 L539.39,200.43 L540.49,200.58 L541.60,200.73 L542.70,200.88 L543.81,201.03 L544.91,201.17 L546.02,201.32 L547.13,201.47 L548.23,201.61 L549.34,201.76 L550.44,201.90 L551.55,202.05 L552.66,202.19 L553.76,202.33 L554.87,202.47 L555.97,202.61 L557.08,202.75 L558.18,202.89 L559.29,203.03 L560.40,203.17 L561.50,203.30 L562.61,203.44 L563.71,203.58 L564.82,203.71 L565.92,203.85 L567.03,203.98 L568.14,204.11 L569.24,204.25 L570.35,204.38 L571.45,204.51 L572.56,204.64 L573.66,204.77 L574.77,204.90 L575.88,205.03 L576.98,205.16 L578.09,205.29 L579.19,205.41 L580.30,205.54 L581.41,205.67 L582.51,205.79 L583.62,205.92 L584.72,206.04 L585.83,206.17 L586.93,206.29 L588.04,206.42 L589.15,206.54 L590.25,206.66 L591.36,206.78 L592.46,206.90 L593.57,207.03 L594.67,207.15 L595.78,207.27 L596.89,207.39 L597.99,207.50 L599.10,207.62 L600.20,207.74 L601.31,207.86 L602.42,207.98 L603.52,208.09 L604.63,208.21 L605.73,208.33 L606.84,208.44 L607.94,208.56 L609.05,208.67 L610.16,208.79 L611.26,208.90 L612.37,209.02 L613.47,209.13 L614.58,209.24 L615.68,209.35 L616.79,209.47 L617.90,209.58 L619.00,209.69 L620.11,209.80 L621.21,209.91 L622.32,210.02 L623.42,210.13 L624.53,210.24 L625.64,210.35 L626.74,210.46 L627.85,210.57 L628.95,210.68 L630.06,210.79 L631.17,210.89 L632.27,211.00 L633.38,211.11 L634.48,211.21 L635.59,211.32 L636.69,211.43 L637.80,211.53" fill="none" stroke="#BA6A66" stroke-width="1.45" stroke-linecap="butt" stroke-linejoin="round"/>
<path d="M393.30,138.98 L393.34,139.29 L393.38,139.59 L393.42,139.87 L393.46,140.14 L393.51,140.40 L393.55,140.65 L393.59,140.89 L393.63,141.12 L393.67,141.34 L393.71,141.55 L393.75,141.75 L393.79,141.95 L393.83,142.14 L393.87,142.32 L393.92,142.50 L393.96,142.68 L394.00,142.85 L394.04,143.01 L394.08,143.17 L394.12,143.33 L394.16,143.48 L394.20,143.63 L394.24,143.77 L394.28,143.91 L394.33,144.05 L394.37,144.19 L394.41,144.32 L394.45,144.45 L394.49,144.57 L394.53,144.70 L394.57,144.82 L394.61,144.94 L394.65,145.06 L394.69,145.17 L394.74,145.28 L394.78,145.40 L394.82,145.50 L394.86,145.61 L394.90,145.72 L394.94,145.82 L394.98,145.92 L395.02,146.02 L395.06,146.12 L395.11,146.22 L395.15,146.31 L395.19,146.41 L395.23,146.50 L395.27,146.59 L395.31,146.68 L395.35,146.77 L395.39,146.86 L395.43,146.95 L395.47,147.03 L395.52,147.12 L395.56,147.20 L395.60,147.28 L395.64,147.36 L395.68,147.44 L395.72,147.52 L395.76,147.60 L395.80,147.68 L395.84,147.75 L395.88,147.83 L395.93,147.90 L395.97,147.98 L396.01,148.05 L396.05,148.12 L396.09,148.20 L396.13,148.27 L396.17,148.34 L396.21,148.41 L396.25,148.47 L396.29,148.54 L396.34,148.61 L396.38,148.68 L396.42,148.74 L396.46,148.81 L396.50,148.87 L396.54,148.94 L396.58,149.00 L396.62,149.06 L396.66,149.13 L396.70,149.19 L396.75,149.25 L396.79,149.31 L396.83,149.37 L396.87,149.43 L396.91,149.49 L396.95,149.55 L396.99,149.61 L397.03,149.66 L397.07,149.72 L397.12,149.78 L397.16,149.83 L397.20,149.89 L397.24,149.95 L397.28,150.00 L397.32,150.06 L397.36,150.11 L397.40,150.16 L397.44,150.22 L397.48,150.27 L397.53,150.32 L397.57,150.37 L397.61,150.43 L397.65,150.48 L397.69,150.53 L397.73,150.58 L397.77,150.63 L397.81,150.68 L397.85,150.73 L397.89,150.78 L397.94,150.83 L397.98,150.88 L398.02,150.93 L398.06,150.97 L398.10,151.02 L398.14,151.07 L398.18,151.12 L398.22,151.16 L398.26,151.21 L398.30,151.26 L398.35,151.30 L398.39,151.35 L398.43,151.40 L398.47,151.44 L398.51,151.49 L398.55,151.53 L398.59,151.57 L398.63,151.62 L398.67,151.66 L398.72,151.71 L398.76,151.75 L398.80,151.79 L398.84,151.84 L398.88,151.88 L398.92,151.92 L398.96,151.96 L399.00,152.01 L399.04,152.05 L399.08,152.09 L399.13,152.13 L399.17,152.17 L399.21,152.21 L399.25,152.25 L399.29,152.30 L399.33,152.34 L399.37,152.38 L399.41,152.42 L399.64,152.64 L399.88,152.85 L400.11,153.07 L400.34,153.27 L400.57,153.47 L400.81,153.67 L401.04,153.86 L401.27,154.05 L401.50,154.23 L401.73,154.41 L401.97,154.59 L402.20,154.76 L402.43,154.93 L402.66,155.10 L402.89,155.26 L403.13,155.42 L403.36,155.58 L403.59,155.74 L403.82,155.89 L404.05,156.04 L404.29,156.19 L404.52,156.34 L404.75,156.48 L404.98,156.63 L405.22,156.77 L405.45,156.90 L405.68,157.04 L405.91,157.18 L406.14,157.31 L406.38,157.44 L406.61,157.57 L406.84,157.70 L407.07,157.83 L407.30,157.96 L407.54,158.08 L407.77,158.20 L408.00,158.33 L408.23,158.45 L408.47,158.57 L408.70,158.69 L408.93,158.80 L409.16,158.92 L409.39,159.04 L409.63,159.15 L409.86,159.26 L410.09,159.37 L410.32,159.49 L410.55,159.60 L410.79,159.71 L411.02,159.81 L411.25,159.92 L411.48,160.03 L411.71,160.13 L411.95,160.24 L412.18,160.34 L412.41,160.45 L412.64,160.55 L412.88,160.65 L413.11,160.75 L413.34,160.85 L413.57,160.95 L413.80,161.05 L414.04,161.15 L414.27,161.25 L414.50,161.35 L414.73,161.44 L414.96,161.54 L415.20,161.64 L415.43,161.73 L415.66,161.83 L415.89,161.92 L416.13,162.01 L416.36,162.11 L416.59,162.20 L416.82,162.29 L417.05,162.38 L417.29,162.47 L417.52,162.56 L417.75,162.65 L418.86,163.07 L419.96,163.48 L421.07,163.89 L422.17,164.28 L423.28,164.67 L424.38,165.05 L425.49,165.42 L426.60,165.79 L427.70,166.15 L428.81,166.50 L429.91,166.85 L431.02,167.20 L432.13,167.54 L433.23,167.88 L434.34,168.21 L435.44,168.54 L436.55,168.86 L437.65,169.19 L438.76,169.50 L439.87,169.82 L440.97,170.13 L442.08,170.44 L443.18,170.75 L444.29,171.05 L445.39,171.35 L446.50,171.65 L447.61,171.95 L448.71,172.24 L449.82,172.54 L450.92,172.83 L452.03,173.11 L453.13,173.40 L454.24,173.69 L455.35,173.97 L456.45,174.25 L457.56,174.53 L458.66,174.81 L459.77,175.08 L460.88,175.36 L461.98,175.63 L463.09,175.90 L464.19,176.17 L465.30,176.44 L466.40,176.71 L467.51,176.98 L468.62,177.24 L469.72,177.51 L470.83,177.77 L471.93,178.04 L473.04,178.30 L474.14,178.56 L475.25,178.82 L476.36,179.07 L477.46,179.33 L478.57,179.59 L479.67,179.84 L480.78,180.10 L481.89,180.35 L482.99,180.60 L484.10,180.86 L485.20,181.11 L486.31,181.36 L487.41,181.61 L488.52,181.86 L489.63,182.11 L490.73,182.35 L491.84,182.60 L492.94,182.85 L494.05,183.09 L495.15,183.34 L496.26,183.58 L497.37,183.82 L498.47,184.07 L499.58,184.31 L500.68,184.55 L501.79,184.79 L502.89,185.03 L504.00,185.27 L505.11,185.51 L506.21,185.75 L507.32,185.99 L508.42,186.23 L509.53,186.46 L510.64,186.70 L511.74,186.94 L512.85,187.17 L513.95,187.41 L515.06,187.64 L516.16,187.88 L517.27,188.11 L518.38,188.35 L519.48,188.58 L520.59,188.81 L521.69,189.05 L522.80,189.28 L523.90,189.51 L525.01,189.74 L526.12,189.97 L527.22,190.20 L528.33,190.43 L529.43,190.66 L530.54,190.89 L531.65,191.12 L532.75,191.35 L533.86,191.58 L534.96,191.81 L536.07,192.03 L537.17,192.26 L538.28,192.49 L539.39,192.72 L540.49,192.94 L541.60,193.17 L542.70,193.39 L543.81,193.62 L544.91,193.85 L546.02,194.07 L547.13,194.30 L548.23,194.52 L549.34,194.74 L550.44,194.97 L551.55,195.19 L552.66,195.41 L553.76,195.64 L554.87,195.86 L555.97,196.08 L557.08,196.31 L558.18,196.53 L559.29,196.75 L560.40,196.97 L561.50,197.19 L562.61,197.41 L563.71,197.63 L564.82,197.86 L565.92,198.08 L567.03,198.30 L568.14,198.52 L569.24,198.74 L570.35,198.96 L571.45,199.17 L572.56,199.39 L573.66,199.61 L574.77,199.83 L575.88,200.05 L576.98,200.27 L578.09,200.49 L579.19,200.70 L580.30,200.92 L581.41,201.14 L582.51,201.36 L583.62,201.57 L584.72,201.79 L585.83,202.01 L586.93,202.22 L588.04,202.44 L589.15,202.66 L590.25,202.87 L591.36,203.09 L592.46,203.31 L593.57,203.52 L594.67,203.74 L595.78,203.95 L596.89,204.17 L597.99,204.38 L599.10,204.60 L600.20,204.81 L601.31,205.03 L602.42,205.24 L603.52,205.45 L604.63,205.67 L605.73,205.88 L606.84,206.10 L607.94,206.31 L609.05,206.52 L610.16,206.74 L611.26,206.95 L612.37,207.16 L613.47,207.37 L614.58,207.59 L615.68,207.80 L616.79,208.01 L617.90,208.22 L619.00,208.44 L620.11,208.65 L621.21,208.86 L622.32,209.07 L623.42,209.28 L624.53,209.50 L625.64,209.71 L626.74,209.92 L627.85,210.13 L628.95,210.34 L630.06,210.55 L631.17,210.76 L632.27,210.97 L633.38,211.18 L634.48,211.39 L635.59,211.60 L636.69,211.82 L637.80,212.03" fill="none" stroke="#9A89C4" stroke-width="1.45" stroke-linecap="butt" stroke-linejoin="round"/>
<path d="M393.30,153.90 L393.34,154.55 L393.38,155.19 L393.42,155.80 L393.46,156.38 L393.51,156.95 L393.55,157.50 L393.59,158.02 L393.63,158.54 L393.67,159.03 L393.71,159.52 L393.75,159.98 L393.79,160.44 L393.83,160.88 L393.87,161.31 L393.92,161.73 L393.96,162.14 L394.00,162.54 L394.04,162.93 L394.08,163.31 L394.12,163.68 L394.16,164.05 L394.20,164.40 L394.24,164.75 L394.28,165.09 L394.33,165.42 L394.37,165.75 L394.41,166.07 L394.45,166.39 L394.49,166.69 L394.53,167.00 L394.57,167.29 L394.61,167.58 L394.65,167.87 L394.69,168.15 L394.74,168.43 L394.78,168.70 L394.82,168.97 L394.86,169.23 L394.90,169.49 L394.94,169.75 L394.98,170.00 L395.02,170.25 L395.06,170.49 L395.11,170.73 L395.15,170.97 L395.19,171.20 L395.23,171.43 L395.27,171.66 L395.31,171.88 L395.35,172.10 L395.39,172.32 L395.43,172.53 L395.47,172.74 L395.52,172.95 L395.56,173.16 L395.60,173.36 L395.64,173.57 L395.68,173.77 L395.72,173.96 L395.76,174.16 L395.80,174.35 L395.84,174.54 L395.88,174.73 L395.93,174.91 L395.97,175.09 L396.01,175.28 L396.05,175.45 L396.09,175.63 L396.13,175.81 L396.17,175.98 L396.21,176.15 L396.25,176.32 L396.29,176.49 L396.34,176.66 L396.38,176.82 L396.42,176.99 L396.46,177.15 L396.50,177.31 L396.54,177.47 L396.58,177.62 L396.62,177.78 L396.66,177.93 L396.70,178.09 L396.75,178.24 L396.79,178.39 L396.83,178.53 L396.87,178.68 L396.91,178.83 L396.95,178.97 L396.99,179.12 L397.03,179.26 L397.07,179.40 L397.12,179.54 L397.16,179.68 L397.20,179.81 L397.24,179.95 L397.28,180.08 L397.32,180.22 L397.36,180.35 L397.40,180.48 L397.44,180.61 L397.48,180.74 L397.53,180.87 L397.57,181.00 L397.61,181.13 L397.65,181.25 L397.69,181.38 L397.73,181.50 L397.77,181.62 L397.81,181.74 L397.85,181.87 L397.89,181.99 L397.94,182.10 L397.98,182.22 L398.02,182.34 L398.06,182.46 L398.10,182.57 L398.14,182.69 L398.18,182.80 L398.22,182.92 L398.26,183.03 L398.30,183.14 L398.35,183.25 L398.39,183.36 L398.43,183.47 L398.47,183.58 L398.51,183.69 L398.55,183.80 L398.59,183.90 L398.63,184.01 L398.67,184.11 L398.72,184.22 L398.76,184.32 L398.80,184.43 L398.84,184.53 L398.88,184.63 L398.92,184.73 L398.96,184.83 L399.00,184.93 L399.04,185.03 L399.08,185.13 L399.13,185.23 L399.17,185.33 L399.21,185.43 L399.25,185.52 L399.29,185.62 L399.33,185.72 L399.37,185.81 L399.41,185.91 L399.64,186.43 L399.88,186.94 L400.11,187.43 L400.34,187.91 L400.57,188.38 L400.81,188.83 L401.04,189.27 L401.27,189.70 L401.50,190.12 L401.73,190.53 L401.97,190.93 L402.20,191.31 L402.43,191.69 L402.66,192.07 L402.89,192.43 L403.13,192.79 L403.36,193.13 L403.59,193.47 L403.82,193.81 L404.05,194.14 L404.29,194.46 L404.52,194.77 L404.75,195.08 L404.98,195.39 L405.22,195.68 L405.45,195.98 L405.68,196.27 L405.91,196.55 L406.14,196.83 L406.38,197.10 L406.61,197.37 L406.84,197.64 L407.07,197.90 L407.30,198.15 L407.54,198.41 L407.77,198.66 L408.00,198.90 L408.23,199.14 L408.47,199.38 L408.70,199.62 L408.93,199.85 L409.16,200.08 L409.39,200.31 L409.63,200.53 L409.86,200.75 L410.09,200.97 L410.32,201.18 L410.55,201.39 L410.79,201.60 L411.02,201.81 L411.25,202.01 L411.48,202.21 L411.71,202.41 L411.95,202.61 L412.18,202.81 L412.41,203.00 L412.64,203.19 L412.88,203.38 L413.11,203.56 L413.34,203.75 L413.57,203.93 L413.80,204.11 L414.04,204.29 L414.27,204.46 L414.50,204.64 L414.73,204.81 L414.96,204.98 L415.20,205.15 L415.43,205.32 L415.66,205.49 L415.89,205.65 L416.13,205.82 L416.36,205.98 L416.59,206.14 L416.82,206.30 L417.05,206.45 L417.29,206.61 L417.52,206.76 L417.75,206.92 L418.86,207.63 L419.96,208.31 L421.07,208.97 L422.17,209.60 L423.28,210.21 L424.38,210.80 L425.49,211.37 L426.60,211.92 L427.70,212.46 L428.81,212.98 L429.91,213.48 L431.02,213.97 L432.13,214.45 L433.23,214.92 L434.34,215.37 L435.44,215.81 L436.55,216.24 L437.65,216.67 L438.76,217.08 L439.87,217.48 L440.97,217.87 L442.08,218.26 L443.18,218.64 L444.29,219.01 L445.39,219.37 L446.50,219.73 L447.61,220.08 L448.71,220.42 L449.82,220.75 L450.92,221.09 L452.03,221.41 L453.13,221.73 L454.24,222.04 L455.35,222.35 L456.45,222.65 L457.56,222.95 L458.66,223.25 L459.77,223.54 L460.88,223.82 L461.98,224.10 L463.09,224.38 L464.19,224.65 L465.30,224.92 L466.40,225.19 L467.51,225.45 L468.62,225.71 L469.72,225.96 L470.83,226.21 L471.93,226.46 L473.04,226.71 L474.14,226.95 L475.25,227.19 L476.36,227.43 L477.46,227.66 L478.57,227.89 L479.67,228.12 L480.78,228.35 L481.89,228.57 L482.99,228.79 L484.10,229.01 L485.20,229.22 L486.31,229.44 L487.41,229.65 L488.52,229.86 L489.63,230.06 L490.73,230.27 L491.84,230.47 L492.94,230.67 L494.05,230.87 L495.15,231.07 L496.26,231.27 L497.37,231.46 L498.47,231.65 L499.58,231.84 L500.68,232.03 L501.79,232.21 L502.89,232.40 L504.00,232.58 L505.11,232.76 L506.21,232.94 L507.32,233.12 L508.42,233.30 L509.53,233.48 L510.64,233.65 L511.74,233.82 L512.85,233.99 L513.95,234.16 L515.06,234.33 L516.16,234.50 L517.27,234.67 L518.38,234.83 L519.48,234.99 L520.59,235.16 L521.69,235.32 L522.80,235.48 L523.90,235.64 L525.01,235.79 L526.12,235.95 L527.22,236.11 L528.33,236.26 L529.43,236.41 L530.54,236.56 L531.65,236.72 L532.75,236.87 L533.86,237.02 L534.96,237.16 L536.07,237.31 L537.17,237.46 L538.28,237.60 L539.39,237.75 L540.49,237.89 L541.60,238.03 L542.70,238.17 L543.81,238.31 L544.91,238.45 L546.02,238.59 L547.13,238.73 L548.23,238.87 L549.34,239.01 L550.44,239.14 L551.55,239.28 L552.66,239.41 L553.76,239.54 L554.87,239.68 L555.97,239.81 L557.08,239.94 L558.18,240.07 L559.29,240.20 L560.40,240.33 L561.50,240.46 L562.61,240.58 L563.71,240.71 L564.82,240.84 L565.92,240.96 L567.03,241.09 L568.14,241.21 L569.24,241.34 L570.35,241.46 L571.45,241.58 L572.56,241.70 L573.66,241.82 L574.77,241.94 L575.88,242.06 L576.98,242.18 L578.09,242.30 L579.19,242.42 L580.30,242.54 L581.41,242.66 L582.51,242.77 L583.62,242.89 L584.72,243.00 L585.83,243.12 L586.93,243.23 L588.04,243.35 L589.15,243.46 L590.25,243.57 L591.36,243.69 L592.46,243.80 L593.57,243.91 L594.67,244.02 L595.78,244.13 L596.89,244.24 L597.99,244.35 L599.10,244.46 L600.20,244.57 L601.31,244.68 L602.42,244.78 L603.52,244.89 L604.63,245.00 L605.73,245.10 L606.84,245.21 L607.94,245.31 L609.05,245.42 L610.16,245.52 L611.26,245.63 L612.37,245.73 L613.47,245.83 L614.58,245.94 L615.68,246.04 L616.79,246.14 L617.90,246.24 L619.00,246.35 L620.11,246.45 L621.21,246.55 L622.32,246.65 L623.42,246.75 L624.53,246.85 L625.64,246.95 L626.74,247.04 L627.85,247.14 L628.95,247.24 L630.06,247.34 L631.17,247.44 L632.27,247.53 L633.38,247.63 L634.48,247.73 L635.59,247.82 L636.69,247.92 L637.80,248.01" fill="none" stroke="#F18E40" stroke-width="1.45" stroke-linecap="butt" stroke-linejoin="round"/>
<path d="M394.52,157.65 L394.56,157.98 L394.59,158.30 L394.62,158.62 L394.65,158.93 L394.69,159.24 L394.72,159.53 L394.75,159.82 L394.79,160.11 L394.82,160.39 L394.85,160.67 L394.88,160.93 L394.92,161.20 L394.95,161.46 L394.98,161.72 L395.01,161.97 L395.05,162.21 L395.08,162.46 L395.11,162.69 L395.15,162.93 L395.18,163.16 L395.21,163.39 L395.24,163.61 L395.28,163.83 L395.31,164.05 L395.34,164.26 L395.38,164.47 L395.41,164.68 L395.44,164.89 L395.47,165.09 L395.51,165.29 L395.54,165.49 L395.57,165.68 L395.61,165.87 L395.64,166.06 L395.67,166.25 L395.70,166.43 L395.74,166.61 L395.77,166.79 L395.80,166.97 L395.84,167.15 L395.87,167.32 L395.90,167.49 L395.93,167.66 L395.97,167.83 L396.00,168.00 L396.03,168.16 L396.06,168.32 L396.10,168.48 L396.13,168.64 L396.16,168.80 L396.20,168.95 L396.23,169.11 L396.26,169.26 L396.29,169.41 L396.33,169.56 L396.36,169.71 L396.39,169.85 L396.43,170.00 L396.46,170.14 L396.49,170.28 L396.52,170.43 L396.56,170.56 L396.59,170.70 L396.62,170.84 L396.66,170.98 L396.69,171.11 L396.72,171.24 L396.75,171.38 L396.79,171.51 L396.82,171.64 L396.85,171.76 L396.89,171.89 L396.92,172.02 L396.95,172.14 L396.98,172.27 L397.02,172.39 L397.05,172.51 L397.08,172.64 L397.12,172.76 L397.15,172.88 L397.18,172.99 L397.21,173.11 L397.25,173.23 L397.28,173.34 L397.31,173.46 L397.34,173.57 L397.38,173.69 L397.41,173.80 L397.44,173.91 L397.48,174.02 L397.51,174.13 L397.54,174.24 L397.57,174.35 L397.61,174.46 L397.64,174.56 L397.67,174.67 L397.71,174.78 L397.74,174.88 L397.77,174.99 L397.80,175.09 L397.84,175.19 L397.87,175.29 L397.90,175.39 L397.94,175.50 L397.97,175.60 L398.00,175.69 L398.03,175.79 L398.07,175.89 L398.10,175.99 L398.13,176.09 L398.17,176.18 L398.20,176.28 L398.23,176.37 L398.26,176.47 L398.30,176.56 L398.33,176.65 L398.36,176.75 L398.40,176.84 L398.43,176.93 L398.46,177.02 L398.49,177.11 L398.53,177.20 L398.56,177.29 L398.59,177.38 L398.62,177.47 L398.66,177.56 L398.69,177.65 L398.72,177.73 L398.76,177.82 L398.79,177.91 L398.82,177.99 L398.85,178.08 L398.89,178.16 L398.92,178.25 L398.95,178.33 L398.99,178.41 L399.02,178.50 L399.05,178.58 L399.08,178.66 L399.12,178.74 L399.15,178.82 L399.18,178.91 L399.22,178.99 L399.25,179.07 L399.28,179.15 L399.31,179.22 L399.35,179.30 L399.38,179.38 L399.41,179.46 L399.64,180.00 L399.88,180.53 L400.11,181.03 L400.34,181.52 L400.57,182.00 L400.81,182.47 L401.04,182.92 L401.27,183.36 L401.50,183.78 L401.73,184.20 L401.97,184.61 L402.20,185.00 L402.43,185.39 L402.66,185.77 L402.89,186.14 L403.13,186.51 L403.36,186.86 L403.59,187.21 L403.82,187.55 L404.05,187.89 L404.29,188.21 L404.52,188.54 L404.75,188.85 L404.98,189.16 L405.22,189.47 L405.45,189.77 L405.68,190.07 L405.91,190.36 L406.14,190.64 L406.38,190.93 L406.61,191.20 L406.84,191.48 L407.07,191.75 L407.30,192.01 L407.54,192.28 L407.77,192.53 L408.00,192.79 L408.23,193.04 L408.47,193.29 L408.70,193.53 L408.93,193.77 L409.16,194.01 L409.39,194.25 L409.63,194.48 L409.86,194.71 L410.09,194.94 L410.32,195.17 L410.55,195.39 L410.79,195.61 L411.02,195.83 L411.25,196.04 L411.48,196.25 L411.71,196.46 L411.95,196.67 L412.18,196.88 L412.41,197.08 L412.64,197.29 L412.88,197.49 L413.11,197.68 L413.34,197.88 L413.57,198.08 L413.80,198.27 L414.04,198.46 L414.27,198.65 L414.50,198.84 L414.73,199.02 L414.96,199.21 L415.20,199.39 L415.43,199.57 L415.66,199.75 L415.89,199.93 L416.13,200.11 L416.36,200.28 L416.59,200.46 L416.82,200.63 L417.05,200.80 L417.29,200.97 L417.52,201.14 L417.75,201.31 L418.86,202.09 L419.96,202.84 L421.07,203.58 L422.17,204.29 L423.28,204.98 L424.38,205.65 L425.49,206.30 L426.60,206.94 L427.70,207.56 L428.81,208.17 L429.91,208.77 L431.02,209.35 L432.13,209.92 L433.23,210.48 L434.34,211.03 L435.44,211.56 L436.55,212.09 L437.65,212.61 L438.76,213.12 L439.87,213.63 L440.97,214.12 L442.08,214.61 L443.18,215.09 L444.29,215.57 L445.39,216.03 L446.50,216.49 L447.61,216.95 L448.71,217.40 L449.82,217.84 L450.92,218.28 L452.03,218.71 L453.13,219.14 L454.24,219.57 L455.35,219.99 L456.45,220.40 L457.56,220.81 L458.66,221.22 L459.77,221.62 L460.88,222.02 L461.98,222.42 L463.09,222.81 L464.19,223.20 L465.30,223.58 L466.40,223.96 L467.51,224.34 L468.62,224.71 L469.72,225.09 L470.83,225.46 L471.93,225.82 L473.04,226.19 L474.14,226.55 L475.25,226.91 L476.36,227.26 L477.46,227.62 L478.57,227.97 L479.67,228.32 L480.78,228.66 L481.89,229.01 L482.99,229.35 L484.10,229.69 L485.20,230.03 L486.31,230.36 L487.41,230.70 L488.52,231.03 L489.63,231.36 L490.73,231.69 L491.84,232.01 L492.94,232.34 L494.05,232.66 L495.15,232.98 L496.26,233.30 L497.37,233.62 L498.47,233.94 L499.58,234.25 L500.68,234.57 L501.79,234.88 L502.89,235.19 L504.00,235.50 L505.11,235.81 L506.21,236.11 L507.32,236.42 L508.42,236.72 L509.53,237.02 L510.64,237.32 L511.74,237.63 L512.85,237.92 L513.95,238.22 L515.06,238.52 L516.16,238.81 L517.27,239.11 L518.38,239.40 L519.48,239.69 L520.59,239.98 L521.69,240.27 L522.80,240.56 L523.90,240.85 L525.01,241.14 L526.12,241.42 L527.22,241.71 L528.33,241.99 L529.43,242.28 L530.54,242.56 L531.65,242.84 L532.75,243.12 L533.86,243.40 L534.96,243.68 L536.07,243.96 L537.17,244.23 L538.28,244.51 L539.39,244.78 L540.49,245.06 L541.60,245.33 L542.70,245.61 L543.81,245.88 L544.91,246.15 L546.02,246.42 L547.13,246.69 L548.23,246.96 L549.34,247.23 L550.44,247.50 L551.55,247.76 L552.66,248.03 L553.76,248.30 L554.87,248.56 L555.97,248.83 L557.08,249.09 L558.18,249.35 L559.29,249.62 L560.40,249.88 L561.50,250.14 L562.61,250.40 L563.71,250.66 L564.82,250.92 L565.92,251.18 L567.03,251.44 L568.14,251.69 L569.24,251.95 L570.35,252.21 L571.45,252.47 L572.56,252.72 L573.66,252.98 L574.77,253.23 L575.88,253.49 L576.98,253.74 L578.09,253.99 L579.19,254.24 L580.30,254.50 L581.41,254.75 L582.51,255.00 L583.62,255.25 L584.72,255.50 L585.83,255.75 L586.93,256.00 L588.04,256.25 L589.15,256.50 L590.25,256.75 L591.36,256.99 L592.46,257.24 L593.57,257.49 L594.67,257.73 L595.78,257.98 L596.89,258.22 L597.99,258.47 L599.10,258.71 L600.20,258.96 L601.31,259.20 L602.42,259.45 L603.52,259.69 L604.63,259.93 L605.73,260.17 L606.84,260.42 L607.94,260.66 L609.05,260.90 L610.16,261.14 L611.26,261.38 L612.37,261.62 L613.47,261.86 L614.58,262.10 L615.68,262.34 L616.79,262.58 L617.90,262.82 L619.00,263.05 L620.11,263.29 L621.21,263.53 L622.32,263.77 L623.42,264.00 L624.53,264.24 L625.64,264.47 L626.74,264.71 L627.85,264.95 L628.95,265.18 L630.06,265.42 L631.17,265.65 L632.27,265.88 L633.38,266.12 L634.48,266.35 L635.59,266.59 L636.69,266.82 L637.80,267.05" fill="none" stroke="#58A7BF" stroke-width="1.45" stroke-linecap="butt" stroke-linejoin="round" stroke-dasharray="2.4 1.5" stroke-opacity="0.82"/>
<path d="M394.52,119.74 L394.56,120.09 L394.59,120.43 L394.62,120.76 L394.65,121.09 L394.69,121.40 L394.72,121.71 L394.75,122.02 L394.79,122.31 L394.82,122.60 L394.85,122.89 L394.88,123.16 L394.92,123.44 L394.95,123.70 L394.98,123.96 L395.01,124.22 L395.05,124.47 L395.08,124.72 L395.11,124.96 L395.15,125.20 L395.18,125.44 L395.21,125.67 L395.24,125.89 L395.28,126.12 L395.31,126.34 L395.34,126.55 L395.38,126.77 L395.41,126.97 L395.44,127.18 L395.47,127.38 L395.51,127.58 L395.54,127.78 L395.57,127.98 L395.61,128.17 L395.64,128.36 L395.67,128.54 L395.70,128.73 L395.74,128.91 L395.77,129.09 L395.80,129.27 L395.84,129.44 L395.87,129.61 L395.90,129.78 L395.93,129.95 L395.97,130.12 L396.00,130.28 L396.03,130.45 L396.06,130.61 L396.10,130.77 L396.13,130.92 L396.16,131.08 L396.20,131.23 L396.23,131.39 L396.26,131.54 L396.29,131.68 L396.33,131.83 L396.36,131.98 L396.39,132.12 L396.43,132.26 L396.46,132.41 L396.49,132.55 L396.52,132.68 L396.56,132.82 L396.59,132.96 L396.62,133.09 L396.66,133.22 L396.69,133.36 L396.72,133.49 L396.75,133.62 L396.79,133.75 L396.82,133.87 L396.85,134.00 L396.89,134.12 L396.92,134.25 L396.95,134.37 L396.98,134.49 L397.02,134.61 L397.05,134.73 L397.08,134.85 L397.12,134.97 L397.15,135.09 L397.18,135.20 L397.21,135.32 L397.25,135.43 L397.28,135.55 L397.31,135.66 L397.34,135.77 L397.38,135.88 L397.41,135.99 L397.44,136.10 L397.48,136.21 L397.51,136.31 L397.54,136.42 L397.57,136.53 L397.61,136.63 L397.64,136.74 L397.67,136.84 L397.71,136.94 L397.74,137.04 L397.77,137.14 L397.80,137.25 L397.84,137.35 L397.87,137.44 L397.90,137.54 L397.94,137.64 L397.97,137.74 L398.00,137.83 L398.03,137.93 L398.07,138.03 L398.10,138.12 L398.13,138.21 L398.17,138.31 L398.20,138.40 L398.23,138.49 L398.26,138.59 L398.30,138.68 L398.33,138.77 L398.36,138.86 L398.40,138.95 L398.43,139.04 L398.46,139.12 L398.49,139.21 L398.53,139.30 L398.56,139.39 L398.59,139.47 L398.62,139.56 L398.66,139.64 L398.69,139.73 L398.72,139.81 L398.76,139.90 L398.79,139.98 L398.82,140.06 L398.85,140.15 L398.89,140.23 L398.92,140.31 L398.95,140.39 L398.99,140.47 L399.02,140.55 L399.05,140.63 L399.08,140.71 L399.12,140.79 L399.15,140.87 L399.18,140.95 L399.22,141.03 L399.25,141.10 L399.28,141.18 L399.31,141.26 L399.35,141.33 L399.38,141.41 L399.41,141.48 L399.64,142.01 L399.88,142.51 L400.11,143.00 L400.34,143.48 L400.57,143.94 L400.81,144.39 L401.04,144.82 L401.27,145.25 L401.50,145.66 L401.73,146.06 L401.97,146.45 L402.20,146.83 L402.43,147.21 L402.66,147.57 L402.89,147.93 L403.13,148.28 L403.36,148.62 L403.59,148.96 L403.82,149.29 L404.05,149.61 L404.29,149.93 L404.52,150.24 L404.75,150.54 L404.98,150.84 L405.22,151.14 L405.45,151.43 L405.68,151.71 L405.91,151.99 L406.14,152.27 L406.38,152.54 L406.61,152.81 L406.84,153.07 L407.07,153.33 L407.30,153.59 L407.54,153.84 L407.77,154.09 L408.00,154.34 L408.23,154.58 L408.47,154.82 L408.70,155.06 L408.93,155.29 L409.16,155.52 L409.39,155.75 L409.63,155.97 L409.86,156.20 L410.09,156.42 L410.32,156.63 L410.55,156.85 L410.79,157.06 L411.02,157.27 L411.25,157.48 L411.48,157.69 L411.71,157.89 L411.95,158.09 L412.18,158.29 L412.41,158.49 L412.64,158.68 L412.88,158.88 L413.11,159.07 L413.34,159.26 L413.57,159.45 L413.80,159.64 L414.04,159.82 L414.27,160.01 L414.50,160.19 L414.73,160.37 L414.96,160.55 L415.20,160.73 L415.43,160.90 L415.66,161.08 L415.89,161.25 L416.13,161.42 L416.36,161.59 L416.59,161.76 L416.82,161.93 L417.05,162.10 L417.29,162.26 L417.52,162.42 L417.75,162.59 L418.86,163.35 L419.96,164.08 L421.07,164.80 L422.17,165.49 L423.28,166.17 L424.38,166.82 L425.49,167.46 L426.60,168.09 L427.70,168.70 L428.81,169.29 L429.91,169.88 L431.02,170.45 L432.13,171.01 L433.23,171.56 L434.34,172.10 L435.44,172.63 L436.55,173.16 L437.65,173.67 L438.76,174.17 L439.87,174.67 L440.97,175.16 L442.08,175.65 L443.18,176.12 L444.29,176.59 L445.39,177.06 L446.50,177.52 L447.61,177.97 L448.71,178.42 L449.82,178.86 L450.92,179.30 L452.03,179.73 L453.13,180.16 L454.24,180.58 L455.35,181.00 L456.45,181.41 L457.56,181.83 L458.66,182.23 L459.77,182.64 L460.88,183.04 L461.98,183.43 L463.09,183.83 L464.19,184.22 L465.30,184.60 L466.40,184.99 L467.51,185.37 L468.62,185.74 L469.72,186.12 L470.83,186.49 L471.93,186.86 L473.04,187.23 L474.14,187.59 L475.25,187.95 L476.36,188.31 L477.46,188.67 L478.57,189.03 L479.67,189.38 L480.78,189.73 L481.89,190.08 L482.99,190.42 L484.10,190.77 L485.20,191.11 L486.31,191.45 L487.41,191.79 L488.52,192.13 L489.63,192.46 L490.73,192.80 L491.84,193.13 L492.94,193.46 L494.05,193.79 L495.15,194.12 L496.26,194.44 L497.37,194.77 L498.47,195.09 L499.58,195.41 L500.68,195.73 L501.79,196.05 L502.89,196.37 L504.00,196.68 L505.11,197.00 L506.21,197.31 L507.32,197.62 L508.42,197.93 L509.53,198.24 L510.64,198.55 L511.74,198.86 L512.85,199.16 L513.95,199.47 L515.06,199.77 L516.16,200.08 L517.27,200.38 L518.38,200.68 L519.48,200.98 L520.59,201.28 L521.69,201.58 L522.80,201.87 L523.90,202.17 L525.01,202.46 L526.12,202.76 L527.22,203.05 L528.33,203.34 L529.43,203.63 L530.54,203.92 L531.65,204.21 L532.75,204.50 L533.86,204.79 L534.96,205.08 L536.07,205.36 L537.17,205.65 L538.28,205.93 L539.39,206.22 L540.49,206.50 L541.60,206.78 L542.70,207.07 L543.81,207.35 L544.91,207.63 L546.02,207.91 L547.13,208.19 L548.23,208.47 L549.34,208.74 L550.44,209.02 L551.55,209.30 L552.66,209.57 L553.76,209.85 L554.87,210.12 L555.97,210.40 L557.08,210.67 L558.18,210.94 L559.29,211.21 L560.40,211.49 L561.50,211.76 L562.61,212.03 L563.71,212.30 L564.82,212.57 L565.92,212.84 L567.03,213.10 L568.14,213.37 L569.24,213.64 L570.35,213.91 L571.45,214.17 L572.56,214.44 L573.66,214.70 L574.77,214.97 L575.88,215.23 L576.98,215.50 L578.09,215.76 L579.19,216.02 L580.30,216.29 L581.41,216.55 L582.51,216.81 L583.62,217.07 L584.72,217.33 L585.83,217.59 L586.93,217.85 L588.04,218.11 L589.15,218.37 L590.25,218.63 L591.36,218.89 L592.46,219.14 L593.57,219.40 L594.67,219.66 L595.78,219.91 L596.89,220.17 L597.99,220.43 L599.10,220.68 L600.20,220.94 L601.31,221.19 L602.42,221.44 L603.52,221.70 L604.63,221.95 L605.73,222.21 L606.84,222.46 L607.94,222.71 L609.05,222.96 L610.16,223.21 L611.26,223.47 L612.37,223.72 L613.47,223.97 L614.58,224.22 L615.68,224.47 L616.79,224.72 L617.90,224.97 L619.00,225.22 L620.11,225.47 L621.21,225.71 L622.32,225.96 L623.42,226.21 L624.53,226.46 L625.64,226.70 L626.74,226.95 L627.85,227.20 L628.95,227.45 L630.06,227.69 L631.17,227.94 L632.27,228.18 L633.38,228.43 L634.48,228.67 L635.59,228.92 L636.69,229.16 L637.80,229.41" fill="none" stroke="#BA6A66" stroke-width="1.45" stroke-linecap="butt" stroke-linejoin="round" stroke-dasharray="2.4 1.5" stroke-opacity="0.82"/>
<path d="M394.52,112.58 L394.56,112.90 L394.59,113.21 L394.62,113.51 L394.65,113.80 L394.69,114.09 L394.72,114.37 L394.75,114.64 L394.79,114.91 L394.82,115.17 L394.85,115.43 L394.88,115.68 L394.92,115.92 L394.95,116.16 L394.98,116.40 L395.01,116.63 L395.05,116.86 L395.08,117.08 L395.11,117.30 L395.15,117.52 L395.18,117.73 L395.21,117.94 L395.24,118.15 L395.28,118.35 L395.31,118.55 L395.34,118.74 L395.38,118.93 L395.41,119.12 L395.44,119.31 L395.47,119.49 L395.51,119.67 L395.54,119.85 L395.57,120.03 L395.61,120.20 L395.64,120.37 L395.67,120.54 L395.70,120.71 L395.74,120.87 L395.77,121.04 L395.80,121.20 L395.84,121.35 L395.87,121.51 L395.90,121.67 L395.93,121.82 L395.97,121.97 L396.00,122.12 L396.03,122.26 L396.06,122.41 L396.10,122.55 L396.13,122.70 L396.16,122.84 L396.20,122.98 L396.23,123.11 L396.26,123.25 L396.29,123.38 L396.33,123.52 L396.36,123.65 L396.39,123.78 L396.43,123.91 L396.46,124.04 L396.49,124.16 L396.52,124.29 L396.56,124.41 L396.59,124.54 L396.62,124.66 L396.66,124.78 L396.69,124.90 L396.72,125.02 L396.75,125.14 L396.79,125.25 L396.82,125.37 L396.85,125.48 L396.89,125.59 L396.92,125.71 L396.95,125.82 L396.98,125.93 L397.02,126.04 L397.05,126.15 L397.08,126.25 L397.12,126.36 L397.15,126.47 L397.18,126.57 L397.21,126.68 L397.25,126.78 L397.28,126.88 L397.31,126.98 L397.34,127.09 L397.38,127.19 L397.41,127.28 L397.44,127.38 L397.48,127.48 L397.51,127.58 L397.54,127.68 L397.57,127.77 L397.61,127.87 L397.64,127.96 L397.67,128.05 L397.71,128.15 L397.74,128.24 L397.77,128.33 L397.80,128.42 L397.84,128.51 L397.87,128.60 L397.90,128.69 L397.94,128.78 L397.97,128.87 L398.00,128.96 L398.03,129.05 L398.07,129.13 L398.10,129.22 L398.13,129.30 L398.17,129.39 L398.20,129.47 L398.23,129.56 L398.26,129.64 L398.30,129.72 L398.33,129.80 L398.36,129.89 L398.40,129.97 L398.43,130.05 L398.46,130.13 L398.49,130.21 L398.53,130.29 L398.56,130.37 L398.59,130.44 L398.62,130.52 L398.66,130.60 L398.69,130.68 L398.72,130.75 L398.76,130.83 L398.79,130.91 L398.82,130.98 L398.85,131.06 L398.89,131.13 L398.92,131.20 L398.95,131.28 L398.99,131.35 L399.02,131.42 L399.05,131.50 L399.08,131.57 L399.12,131.64 L399.15,131.71 L399.18,131.78 L399.22,131.85 L399.25,131.93 L399.28,132.00 L399.31,132.06 L399.35,132.13 L399.38,132.20 L399.41,132.27 L399.64,132.75 L399.88,133.21 L400.11,133.65 L400.34,134.08 L400.57,134.50 L400.81,134.91 L401.04,135.31 L401.27,135.69 L401.50,136.07 L401.73,136.43 L401.97,136.79 L402.20,137.14 L402.43,137.48 L402.66,137.81 L402.89,138.14 L403.13,138.46 L403.36,138.77 L403.59,139.08 L403.82,139.38 L404.05,139.67 L404.29,139.96 L404.52,140.24 L404.75,140.52 L404.98,140.80 L405.22,141.07 L405.45,141.33 L405.68,141.59 L405.91,141.85 L406.14,142.10 L406.38,142.35 L406.61,142.59 L406.84,142.84 L407.07,143.07 L407.30,143.31 L407.54,143.54 L407.77,143.77 L408.00,143.99 L408.23,144.22 L408.47,144.44 L408.70,144.65 L408.93,144.87 L409.16,145.08 L409.39,145.29 L409.63,145.49 L409.86,145.70 L410.09,145.90 L410.32,146.10 L410.55,146.30 L410.79,146.49 L411.02,146.69 L411.25,146.88 L411.48,147.07 L411.71,147.25 L411.95,147.44 L412.18,147.62 L412.41,147.80 L412.64,147.98 L412.88,148.16 L413.11,148.34 L413.34,148.52 L413.57,148.69 L413.80,148.86 L414.04,149.03 L414.27,149.20 L414.50,149.37 L414.73,149.54 L414.96,149.70 L415.20,149.86 L415.43,150.03 L415.66,150.19 L415.89,150.35 L416.13,150.51 L416.36,150.66 L416.59,150.82 L416.82,150.97 L417.05,151.13 L417.29,151.28 L417.52,151.43 L417.75,151.58 L418.86,152.29 L419.96,152.97 L421.07,153.63 L422.17,154.27 L423.28,154.89 L424.38,155.50 L425.49,156.10 L426.60,156.68 L427.70,157.24 L428.81,157.80 L429.91,158.34 L431.02,158.88 L432.13,159.40 L433.23,159.91 L434.34,160.42 L435.44,160.91 L436.55,161.40 L437.65,161.88 L438.76,162.35 L439.87,162.82 L440.97,163.28 L442.08,163.73 L443.18,164.18 L444.29,164.62 L445.39,165.06 L446.50,165.49 L447.61,165.91 L448.71,166.33 L449.82,166.75 L450.92,167.16 L452.03,167.57 L453.13,167.97 L454.24,168.37 L455.35,168.76 L456.45,169.15 L457.56,169.54 L458.66,169.93 L459.77,170.31 L460.88,170.68 L461.98,171.06 L463.09,171.43 L464.19,171.80 L465.30,172.16 L466.40,172.53 L467.51,172.89 L468.62,173.24 L469.72,173.60 L470.83,173.95 L471.93,174.30 L473.04,174.65 L474.14,175.00 L475.25,175.34 L476.36,175.68 L477.46,176.02 L478.57,176.36 L479.67,176.69 L480.78,177.03 L481.89,177.36 L482.99,177.69 L484.10,178.01 L485.20,178.34 L486.31,178.66 L487.41,178.99 L488.52,179.31 L489.63,179.63 L490.73,179.95 L491.84,180.26 L492.94,180.58 L494.05,180.89 L495.15,181.20 L496.26,181.51 L497.37,181.82 L498.47,182.13 L499.58,182.44 L500.68,182.74 L501.79,183.05 L502.89,183.35 L504.00,183.65 L505.11,183.95 L506.21,184.25 L507.32,184.55 L508.42,184.85 L509.53,185.14 L510.64,185.44 L511.74,185.73 L512.85,186.03 L513.95,186.32 L515.06,186.61 L516.16,186.90 L517.27,187.19 L518.38,187.48 L519.48,187.76 L520.59,188.05 L521.69,188.34 L522.80,188.62 L523.90,188.90 L525.01,189.19 L526.12,189.47 L527.22,189.75 L528.33,190.03 L529.43,190.31 L530.54,190.59 L531.65,190.87 L532.75,191.15 L533.86,191.42 L534.96,191.70 L536.07,191.97 L537.17,192.25 L538.28,192.52 L539.39,192.80 L540.49,193.07 L541.60,193.34 L542.70,193.61 L543.81,193.88 L544.91,194.15 L546.02,194.42 L547.13,194.69 L548.23,194.96 L549.34,195.22 L550.44,195.49 L551.55,195.76 L552.66,196.02 L553.76,196.29 L554.87,196.55 L555.97,196.82 L557.08,197.08 L558.18,197.34 L559.29,197.61 L560.40,197.87 L561.50,198.13 L562.61,198.39 L563.71,198.65 L564.82,198.91 L565.92,199.17 L567.03,199.43 L568.14,199.69 L569.24,199.95 L570.35,200.20 L571.45,200.46 L572.56,200.72 L573.66,200.97 L574.77,201.23 L575.88,201.48 L576.98,201.74 L578.09,201.99 L579.19,202.25 L580.30,202.50 L581.41,202.76 L582.51,203.01 L583.62,203.26 L584.72,203.51 L585.83,203.76 L586.93,204.02 L588.04,204.27 L589.15,204.52 L590.25,204.77 L591.36,205.02 L592.46,205.27 L593.57,205.51 L594.67,205.76 L595.78,206.01 L596.89,206.26 L597.99,206.51 L599.10,206.75 L600.20,207.00 L601.31,207.25 L602.42,207.49 L603.52,207.74 L604.63,207.99 L605.73,208.23 L606.84,208.48 L607.94,208.72 L609.05,208.97 L610.16,209.21 L611.26,209.45 L612.37,209.70 L613.47,209.94 L614.58,210.18 L615.68,210.42 L616.79,210.67 L617.90,210.91 L619.00,211.15 L620.11,211.39 L621.21,211.63 L622.32,211.87 L623.42,212.11 L624.53,212.35 L625.64,212.59 L626.74,212.83 L627.85,213.07 L628.95,213.31 L630.06,213.55 L631.17,213.79 L632.27,214.03 L633.38,214.27 L634.48,214.51 L635.59,214.74 L636.69,214.98 L637.80,215.22" fill="none" stroke="#9A89C4" stroke-width="1.45" stroke-linecap="butt" stroke-linejoin="round" stroke-dasharray="2.4 1.5" stroke-opacity="0.82"/>
<path d="M393.30,212.61 L393.34,212.62 L393.38,212.62 L393.42,212.63 L393.46,212.64 L393.51,212.65 L393.55,212.66 L393.59,212.66 L393.63,212.67 L393.67,212.68 L393.71,212.69 L393.75,212.70 L393.79,212.70 L393.83,212.71 L393.87,212.72 L393.92,212.73 L393.96,212.74 L394.00,212.75 L394.04,212.75 L394.08,212.76 L394.12,212.77 L394.16,212.78 L394.20,212.79 L394.24,212.79 L394.28,212.80 L394.33,212.81 L394.37,212.82 L394.41,212.83 L394.45,212.83 L394.49,212.84 L394.53,212.85 L394.57,212.86 L394.61,212.87 L394.65,212.87 L394.69,212.88 L394.74,212.89 L394.78,212.90 L394.82,212.91 L394.86,212.92 L394.90,212.92 L394.94,212.93 L394.98,212.94 L395.02,212.95 L395.06,212.96 L395.11,212.96 L395.15,212.97 L395.19,212.98 L395.23,212.99 L395.27,213.00 L395.31,213.00 L395.35,213.01 L395.39,213.02 L395.43,213.03 L395.47,213.04 L395.52,213.04 L395.56,213.05 L395.60,213.06 L395.64,213.07 L395.68,213.08 L395.72,213.09 L395.76,213.09 L395.80,213.10 L395.84,213.11 L395.88,213.12 L395.93,213.13 L395.97,213.13 L396.01,213.14 L396.05,213.15 L396.09,213.16 L396.13,213.17 L396.17,213.17 L396.21,213.18 L396.25,213.19 L396.29,213.20 L396.34,213.21 L396.38,213.21 L396.42,213.22 L396.46,213.23 L396.50,213.24 L396.54,213.25 L396.58,213.25 L396.62,213.26 L396.66,213.27 L396.70,213.28 L396.75,213.29 L396.79,213.30 L396.83,213.30 L396.87,213.31 L396.91,213.32 L396.95,213.33 L396.99,213.34 L397.03,213.34 L397.07,213.35 L397.12,213.36 L397.16,213.37 L397.20,213.38 L397.24,213.38 L397.28,213.39 L397.32,213.40 L397.36,213.41 L397.40,213.42 L397.44,213.42 L397.48,213.43 L397.53,213.44 L397.57,213.45 L397.61,213.46 L397.65,213.46 L397.69,213.47 L397.73,213.48 L397.77,213.49 L397.81,213.50 L397.85,213.51 L397.89,213.51 L397.94,213.52 L397.98,213.53 L398.02,213.54 L398.06,213.55 L398.10,213.55 L398.14,213.56 L398.18,213.57 L398.22,213.58 L398.26,213.59 L398.30,213.59 L398.35,213.60 L398.39,213.61 L398.43,213.62 L398.47,213.63 L398.51,213.63 L398.55,213.64 L398.59,213.65 L398.63,213.66 L398.67,213.67 L398.72,213.67 L398.76,213.68 L398.80,213.69 L398.84,213.70 L398.88,213.71 L398.92,213.71 L398.96,213.72 L399.00,213.73 L399.04,213.74 L399.08,213.75 L399.13,213.76 L399.17,213.76 L399.21,213.77 L399.25,213.78 L399.29,213.79 L399.33,213.80 L399.37,213.80 L399.41,213.81 L399.64,213.86 L399.88,213.90 L400.11,213.95 L400.34,213.99 L400.57,214.04 L400.81,214.08 L401.04,214.13 L401.27,214.18 L401.50,214.22 L401.73,214.27 L401.97,214.31 L402.20,214.36 L402.43,214.40 L402.66,214.45 L402.89,214.49 L403.13,214.54 L403.36,214.58 L403.59,214.63 L403.82,214.67 L404.05,214.72 L404.29,214.77 L404.52,214.81 L404.75,214.86 L404.98,214.90 L405.22,214.95 L405.45,214.99 L405.68,215.04 L405.91,215.08 L406.14,215.13 L406.38,215.17 L406.61,215.22 L406.84,215.26 L407.07,215.31 L407.30,215.35 L407.54,215.40 L407.77,215.44 L408.00,215.49 L408.23,215.53 L408.47,215.58 L408.70,215.62 L408.93,215.67 L409.16,215.71 L409.39,215.76 L409.63,215.80 L409.86,215.85 L410.09,215.89 L410.32,215.94 L410.55,215.98 L410.79,216.03 L411.02,216.07 L411.25,216.12 L411.48,216.16 L411.71,216.21 L411.95,216.25 L412.18,216.30 L412.41,216.34 L412.64,216.39 L412.88,216.43 L413.11,216.48 L413.34,216.52 L413.57,216.57 L413.80,216.61 L414.04,216.65 L414.27,216.70 L414.50,216.74 L414.73,216.79 L414.96,216.83 L415.20,216.88 L415.43,216.92 L415.66,216.97 L415.89,217.01 L416.13,217.06 L416.36,217.10 L416.59,217.15 L416.82,217.19 L417.05,217.24 L417.29,217.28 L417.52,217.32 L417.75,217.37 L418.86,217.58 L419.96,217.79 L421.07,218.00 L422.17,218.21 L423.28,218.42 L424.38,218.64 L425.49,218.85 L426.60,219.06 L427.70,219.26 L428.81,219.47 L429.91,219.68 L431.02,219.89 L432.13,220.10 L433.23,220.31 L434.34,220.52 L435.44,220.72 L436.55,220.93 L437.65,221.14 L438.76,221.34 L439.87,221.55 L440.97,221.76 L442.08,221.96 L443.18,222.17 L444.29,222.37 L445.39,222.58 L446.50,222.78 L447.61,222.99 L448.71,223.19 L449.82,223.39 L450.92,223.60 L452.03,223.80 L453.13,224.00 L454.24,224.20 L455.35,224.41 L456.45,224.61 L457.56,224.81 L458.66,225.01 L459.77,225.21 L460.88,225.41 L461.98,225.61 L463.09,225.81 L464.19,226.01 L465.30,226.21 L466.40,226.41 L467.51,226.61 L468.62,226.81 L469.72,227.01 L470.83,227.21 L471.93,227.41 L473.04,227.60 L474.14,227.80 L475.25,228.00 L476.36,228.20 L477.46,228.39 L478.57,228.59 L479.67,228.79 L480.78,228.98 L481.89,229.18 L482.99,229.37 L484.10,229.57 L485.20,229.76 L486.31,229.96 L487.41,230.15 L488.52,230.35 L489.63,230.54 L490.73,230.73 L491.84,230.93 L492.94,231.12 L494.05,231.31 L495.15,231.50 L496.26,231.70 L497.37,231.89 L498.47,232.08 L499.58,232.27 L500.68,232.46 L501.79,232.65 L502.89,232.84 L504.00,233.03 L505.11,233.22 L506.21,233.41 L507.32,233.60 L508.42,233.79 L509.53,233.98 L510.64,234.17 L511.74,234.36 L512.85,234.55 L513.95,234.74 L515.06,234.92 L516.16,235.11 L517.27,235.30 L518.38,235.48 L519.48,235.67 L520.59,235.86 L521.69,236.04 L522.80,236.23 L523.90,236.42 L525.01,236.60 L526.12,236.79 L527.22,236.97 L528.33,237.16 L529.43,237.34 L530.54,237.52 L531.65,237.71 L532.75,237.89 L533.86,238.08 L534.96,238.26 L536.07,238.44 L537.17,238.62 L538.28,238.81 L539.39,238.99 L540.49,239.17 L541.60,239.35 L542.70,239.53 L543.81,239.71 L544.91,239.90 L546.02,240.08 L547.13,240.26 L548.23,240.44 L549.34,240.62 L550.44,240.80 L551.55,240.98 L552.66,241.16 L553.76,241.33 L554.87,241.51 L555.97,241.69 L557.08,241.87 L558.18,242.05 L559.29,242.23 L560.40,242.40 L561.50,242.58 L562.61,242.76 L563.71,242.93 L564.82,243.11 L565.92,243.29 L567.03,243.46 L568.14,243.64 L569.24,243.81 L570.35,243.99 L571.45,244.17 L572.56,244.34 L573.66,244.52 L574.77,244.69 L575.88,244.86 L576.98,245.04 L578.09,245.21 L579.19,245.38 L580.30,245.56 L581.41,245.73 L582.51,245.90 L583.62,246.08 L584.72,246.25 L585.83,246.42 L586.93,246.59 L588.04,246.76 L589.15,246.94 L590.25,247.11 L591.36,247.28 L592.46,247.45 L593.57,247.62 L594.67,247.79 L595.78,247.96 L596.89,248.13 L597.99,248.30 L599.10,248.47 L600.20,248.64 L601.31,248.81 L602.42,248.98 L603.52,249.14 L604.63,249.31 L605.73,249.48 L606.84,249.65 L607.94,249.82 L609.05,249.98 L610.16,250.15 L611.26,250.32 L612.37,250.48 L613.47,250.65 L614.58,250.82 L615.68,250.98 L616.79,251.15 L617.90,251.31 L619.00,251.48 L620.11,251.64 L621.21,251.81 L622.32,251.97 L623.42,252.14 L624.53,252.30 L625.64,252.47 L626.74,252.63 L627.85,252.79 L628.95,252.96 L630.06,253.12 L631.17,253.28 L632.27,253.45 L633.38,253.61 L634.48,253.77 L635.59,253.93 L636.69,254.09 L637.80,254.26" fill="none" stroke="#F18E40" stroke-width="1.45" stroke-linecap="butt" stroke-linejoin="round" stroke-dasharray="2.4 1.5" stroke-opacity="0.82"/>
<circle cx="411.64" cy="151.90" r="2.35" fill="#CCC1DA" stroke="#B3A2C7" stroke-width="0.6"/>
<circle cx="423.86" cy="158.90" r="2.35" fill="#CCC1DA" stroke="#B3A2C7" stroke-width="0.6"/>
<circle cx="436.09" cy="174.20" r="2.35" fill="#CCC1DA" stroke="#B3A2C7" stroke-width="0.6"/>
<circle cx="454.43" cy="176.00" r="2.35" fill="#CCC1DA" stroke="#B3A2C7" stroke-width="0.6"/>
<circle cx="515.55" cy="179.90" r="2.35" fill="#CCC1DA" stroke="#B3A2C7" stroke-width="0.6"/>
<circle cx="576.67" cy="192.00" r="2.35" fill="#CCC1DA" stroke="#B3A2C7" stroke-width="0.6"/>
<circle cx="637.80" cy="194.00" r="2.35" fill="#CCC1DA" stroke="#B3A2C7" stroke-width="0.6"/>
<circle cx="411.64" cy="202.30" r="2.35" fill="#FAC090" stroke="#F79646" stroke-width="0.6"/>
<circle cx="423.86" cy="208.20" r="2.35" fill="#FAC090" stroke="#F79646" stroke-width="0.6"/>
<circle cx="436.09" cy="216.10" r="2.35" fill="#FAC090" stroke="#F79646" stroke-width="0.6"/>
<circle cx="454.43" cy="225.70" r="2.35" fill="#FAC090" stroke="#F79646" stroke-width="0.6"/>
<circle cx="515.55" cy="239.80" r="2.35" fill="#FAC090" stroke="#F79646" stroke-width="0.6"/>
<circle cx="576.67" cy="242.90" r="2.35" fill="#FAC090" stroke="#F79646" stroke-width="0.6"/>
<circle cx="637.80" cy="244.50" r="2.35" fill="#FAC090" stroke="#F79646" stroke-width="0.6"/>
<circle cx="411.64" cy="164.40" r="2.35" fill="#D99694" stroke="#C0504D" stroke-width="0.6"/>
<circle cx="423.86" cy="173.70" r="2.35" fill="#D99694" stroke="#C0504D" stroke-width="0.6"/>
<circle cx="436.09" cy="176.50" r="2.35" fill="#D99694" stroke="#C0504D" stroke-width="0.6"/>
<circle cx="454.43" cy="187.00" r="2.35" fill="#D99694" stroke="#C0504D" stroke-width="0.6"/>
<circle cx="515.55" cy="197.60" r="2.35" fill="#D99694" stroke="#C0504D" stroke-width="0.6"/>
<circle cx="576.67" cy="208.00" r="2.35" fill="#D99694" stroke="#C0504D" stroke-width="0.6"/>
<circle cx="637.80" cy="211.10" r="2.35" fill="#D99694" stroke="#C0504D" stroke-width="0.6"/>
<circle cx="411.64" cy="208.30" r="2.35" fill="#92CDDC" stroke="#4BACC6" stroke-width="0.6"/>
<circle cx="423.86" cy="213.50" r="2.35" fill="#92CDDC" stroke="#4BACC6" stroke-width="0.6"/>
<circle cx="436.09" cy="211.00" r="2.35" fill="#92CDDC" stroke="#4BACC6" stroke-width="0.6"/>
<circle cx="454.43" cy="215.20" r="2.35" fill="#92CDDC" stroke="#4BACC6" stroke-width="0.6"/>
<circle cx="515.55" cy="242.80" r="2.35" fill="#92CDDC" stroke="#4BACC6" stroke-width="0.6"/>
<circle cx="576.67" cy="247.40" r="2.35" fill="#92CDDC" stroke="#4BACC6" stroke-width="0.6"/>
<circle cx="637.80" cy="250.70" r="2.35" fill="#92CDDC" stroke="#4BACC6" stroke-width="0.6"/>
<line x1="92.7" y1="94.4" x2="178.6" y2="94.4" stroke="#6e6e6e" stroke-width="1.1" stroke-dasharray="7.4 3.4"/>
<line x1="178.5" y1="95.2" x2="178.5" y2="245.5" stroke="#6e6e6e" stroke-width="1.1" stroke-dasharray="7.3 3.45"/>
<line x1="178.6" y1="247.5" x2="96.3" y2="247.5" stroke="#6e6e6e" stroke-width="1.1" stroke-dasharray="7 3.75"/>
<text transform="translate(201.3,307.6) scale(0.9649,1)" class="t" text-anchor="middle"><tspan font-style="italic">D</tspan> (m)</text>
<text transform="translate(515.5,307.7) scale(0.9649,1)" class="t" text-anchor="middle"><tspan font-style="italic">D</tspan> (m)</text>
<text transform="translate(201.4,328.5) scale(0.9649,1)" class="t" text-anchor="middle">(a)</text>
<text transform="translate(515.2,328.5) scale(0.9649,1)" class="t" text-anchor="middle">(b)</text>
<text transform="translate(43.4,183.4) rotate(-90) scale(0.9649,1)" class="t" text-anchor="middle"><tspan font-style="italic">VL</tspan><tspan font-style="italic" font-size="7.2" dy="1.8">Z</tspan><tspan dy="-1.8"> (dB)</tspan></text>
<text transform="translate(349.9,183.4) rotate(-90) scale(0.9649,1)" class="t" text-anchor="middle"><tspan font-style="italic">VL</tspan><tspan font-style="italic" font-size="7.2" dy="1.8">Z</tspan><tspan dy="-1.8"> (dB)</tspan></text>
</svg></body></html>
